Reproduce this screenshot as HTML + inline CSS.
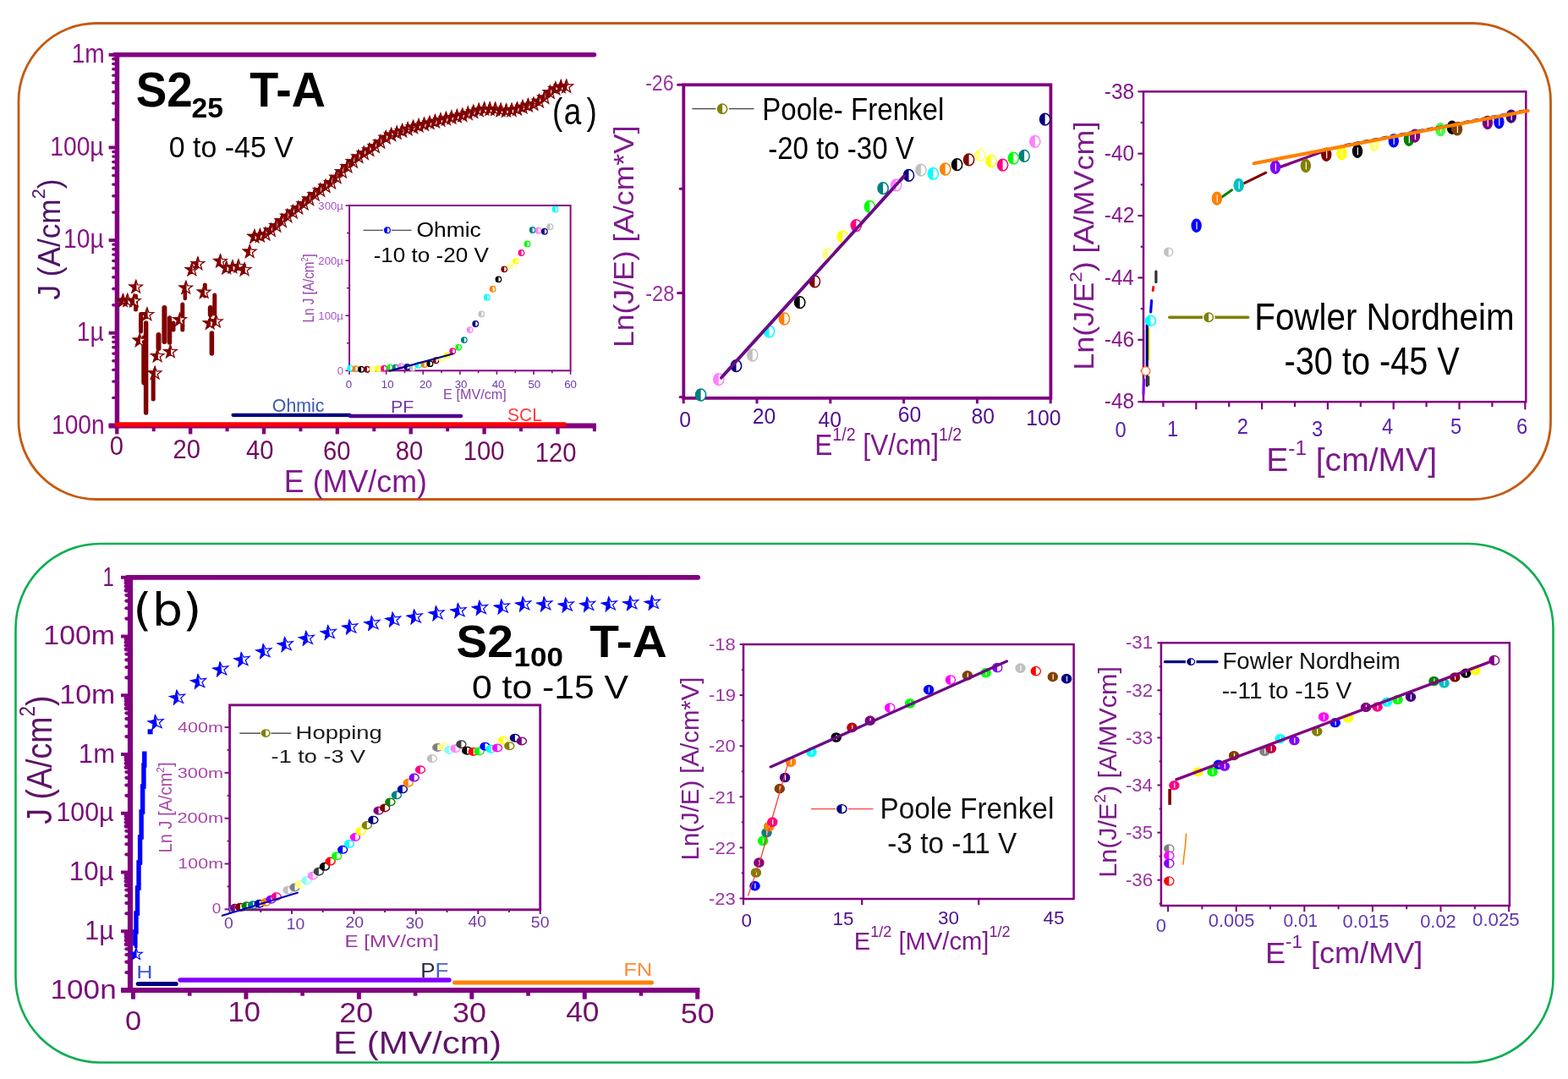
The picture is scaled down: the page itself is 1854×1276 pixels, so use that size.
<!DOCTYPE html>
<html lang="en"><head><meta charset="utf-8"><title>J-E characteristics and conduction mechanisms</title>
<style>html,body{margin:0;padding:0;background:#fff;}body{width:1854px;height:1276px;overflow:hidden;}svg{display:block;}text{font-family:"Liberation Sans",Arial,Helvetica,sans-serif;}</style></head>
<body>
<svg width="1854" height="1276" viewBox="0 0 1854 1276" role="img" aria-label="J-E characteristics with Ohmic, Poole-Frenkel and Fowler-Nordheim fits">
<rect width="1854" height="1276" fill="#fff"/>
<!-- top rounded box -->
<rect x="22" y="27.5" width="1811.5" height="563" rx="92" fill="none" stroke="#C55A11" stroke-width="2.8"/>
<!-- plot (a): J-E, S2_25 -->
<line x1="138.45" y1="62" x2="138.45" y2="506.4" stroke="#800080" stroke-width="5.5" stroke-linecap="butt"/>
<line x1="135.2" y1="64.8" x2="702.5" y2="64.8" stroke="#800080" stroke-width="5.5" stroke-linecap="round"/>
<line x1="128.6" y1="503.4" x2="704.9" y2="503.4" stroke="#800080" stroke-width="6" stroke-linecap="butt"/>
<line x1="128.6" y1="64.8" x2="136" y2="64.8" stroke="#800080" stroke-width="4" stroke-linecap="butt"/>
<line x1="133.8" y1="141.44" x2="136" y2="141.44" stroke="#800080" stroke-width="3.4" stroke-linecap="round"/>
<line x1="133.8" y1="122.13" x2="136" y2="122.13" stroke="#800080" stroke-width="3.4" stroke-linecap="round"/>
<line x1="133.8" y1="108.43" x2="136" y2="108.43" stroke="#800080" stroke-width="3.4" stroke-linecap="round"/>
<line x1="133.8" y1="97.81" x2="136" y2="97.81" stroke="#800080" stroke-width="3.4" stroke-linecap="round"/>
<line x1="133.8" y1="89.13" x2="136" y2="89.13" stroke="#800080" stroke-width="3.4" stroke-linecap="round"/>
<line x1="133.8" y1="81.78" x2="136" y2="81.78" stroke="#800080" stroke-width="3.4" stroke-linecap="round"/>
<line x1="133.8" y1="75.43" x2="136" y2="75.43" stroke="#800080" stroke-width="3.4" stroke-linecap="round"/>
<line x1="133.8" y1="69.82" x2="136" y2="69.82" stroke="#800080" stroke-width="3.4" stroke-linecap="round"/>
<line x1="128.6" y1="174.45" x2="136" y2="174.45" stroke="#800080" stroke-width="4" stroke-linecap="butt"/>
<line x1="133.8" y1="251.09" x2="136" y2="251.09" stroke="#800080" stroke-width="3.4" stroke-linecap="round"/>
<line x1="133.8" y1="231.78" x2="136" y2="231.78" stroke="#800080" stroke-width="3.4" stroke-linecap="round"/>
<line x1="133.8" y1="218.08" x2="136" y2="218.08" stroke="#800080" stroke-width="3.4" stroke-linecap="round"/>
<line x1="133.8" y1="207.46" x2="136" y2="207.46" stroke="#800080" stroke-width="3.4" stroke-linecap="round"/>
<line x1="133.8" y1="198.78" x2="136" y2="198.78" stroke="#800080" stroke-width="3.4" stroke-linecap="round"/>
<line x1="133.8" y1="191.43" x2="136" y2="191.43" stroke="#800080" stroke-width="3.4" stroke-linecap="round"/>
<line x1="133.8" y1="185.08" x2="136" y2="185.08" stroke="#800080" stroke-width="3.4" stroke-linecap="round"/>
<line x1="133.8" y1="179.47" x2="136" y2="179.47" stroke="#800080" stroke-width="3.4" stroke-linecap="round"/>
<line x1="128.6" y1="284.1" x2="136" y2="284.1" stroke="#800080" stroke-width="4" stroke-linecap="butt"/>
<line x1="133.8" y1="360.74" x2="136" y2="360.74" stroke="#800080" stroke-width="3.4" stroke-linecap="round"/>
<line x1="133.8" y1="341.43" x2="136" y2="341.43" stroke="#800080" stroke-width="3.4" stroke-linecap="round"/>
<line x1="133.8" y1="327.73" x2="136" y2="327.73" stroke="#800080" stroke-width="3.4" stroke-linecap="round"/>
<line x1="133.8" y1="317.11" x2="136" y2="317.11" stroke="#800080" stroke-width="3.4" stroke-linecap="round"/>
<line x1="133.8" y1="308.43" x2="136" y2="308.43" stroke="#800080" stroke-width="3.4" stroke-linecap="round"/>
<line x1="133.8" y1="301.08" x2="136" y2="301.08" stroke="#800080" stroke-width="3.4" stroke-linecap="round"/>
<line x1="133.8" y1="294.73" x2="136" y2="294.73" stroke="#800080" stroke-width="3.4" stroke-linecap="round"/>
<line x1="133.8" y1="289.12" x2="136" y2="289.12" stroke="#800080" stroke-width="3.4" stroke-linecap="round"/>
<line x1="128.6" y1="393.75" x2="136" y2="393.75" stroke="#800080" stroke-width="4" stroke-linecap="butt"/>
<line x1="133.8" y1="470.39" x2="136" y2="470.39" stroke="#800080" stroke-width="3.4" stroke-linecap="round"/>
<line x1="133.8" y1="451.08" x2="136" y2="451.08" stroke="#800080" stroke-width="3.4" stroke-linecap="round"/>
<line x1="133.8" y1="437.38" x2="136" y2="437.38" stroke="#800080" stroke-width="3.4" stroke-linecap="round"/>
<line x1="133.8" y1="426.76" x2="136" y2="426.76" stroke="#800080" stroke-width="3.4" stroke-linecap="round"/>
<line x1="133.8" y1="418.08" x2="136" y2="418.08" stroke="#800080" stroke-width="3.4" stroke-linecap="round"/>
<line x1="133.8" y1="410.73" x2="136" y2="410.73" stroke="#800080" stroke-width="3.4" stroke-linecap="round"/>
<line x1="133.8" y1="404.38" x2="136" y2="404.38" stroke="#800080" stroke-width="3.4" stroke-linecap="round"/>
<line x1="133.8" y1="398.77" x2="136" y2="398.77" stroke="#800080" stroke-width="3.4" stroke-linecap="round"/>
<line x1="128.6" y1="503.4" x2="136" y2="503.4" stroke="#800080" stroke-width="4" stroke-linecap="butt"/>
<line x1="138.3" y1="503.4" x2="138.3" y2="513.4" stroke="#800080" stroke-width="4.4" stroke-linecap="butt"/>
<line x1="181.73" y1="503.4" x2="181.73" y2="510.2" stroke="#800080" stroke-width="4" stroke-linecap="butt"/>
<line x1="225.16" y1="503.4" x2="225.16" y2="513.4" stroke="#800080" stroke-width="4.4" stroke-linecap="butt"/>
<line x1="268.59" y1="503.4" x2="268.59" y2="510.2" stroke="#800080" stroke-width="4" stroke-linecap="butt"/>
<line x1="312.02" y1="503.4" x2="312.02" y2="513.4" stroke="#800080" stroke-width="4.4" stroke-linecap="butt"/>
<line x1="355.45" y1="503.4" x2="355.45" y2="510.2" stroke="#800080" stroke-width="4" stroke-linecap="butt"/>
<line x1="398.88" y1="503.4" x2="398.88" y2="513.4" stroke="#800080" stroke-width="4.4" stroke-linecap="butt"/>
<line x1="442.31" y1="503.4" x2="442.31" y2="510.2" stroke="#800080" stroke-width="4" stroke-linecap="butt"/>
<line x1="485.74" y1="503.4" x2="485.74" y2="513.4" stroke="#800080" stroke-width="4.4" stroke-linecap="butt"/>
<line x1="529.17" y1="503.4" x2="529.17" y2="510.2" stroke="#800080" stroke-width="4" stroke-linecap="butt"/>
<line x1="572.6" y1="503.4" x2="572.6" y2="513.4" stroke="#800080" stroke-width="4.4" stroke-linecap="butt"/>
<line x1="616.03" y1="503.4" x2="616.03" y2="510.2" stroke="#800080" stroke-width="4" stroke-linecap="butt"/>
<line x1="659.46" y1="503.4" x2="659.46" y2="513.4" stroke="#800080" stroke-width="4.4" stroke-linecap="butt"/>
<line x1="702.89" y1="503.4" x2="702.89" y2="510.2" stroke="#800080" stroke-width="4" stroke-linecap="butt"/>
<line x1="138.5" y1="502" x2="667.5" y2="502" stroke="#FF0000" stroke-width="5.5" stroke-linecap="round"/>
<line x1="275.5" y1="490.8" x2="413.5" y2="490.8" stroke="#000080" stroke-width="4.2" stroke-linecap="round"/>
<line x1="414" y1="492" x2="545" y2="492" stroke="#4B0091" stroke-width="4.6" stroke-linecap="round"/>
<text transform="translate(84.66,74.1) scale(0.9150,1)" font-size="30.8" fill="#861486">1m</text>
<text transform="translate(59.3,183.75) scale(0.9150,1)" font-size="30.8" fill="#861486">100µ</text>
<text transform="translate(75.08,293.4) scale(0.9150,1)" font-size="30.8" fill="#861486">10µ</text>
<text transform="translate(90.72,403.05) scale(0.9150,1)" font-size="30.8" fill="#861486">1µ</text>
<text transform="translate(60.99,512.7) scale(0.9150,1)" font-size="30.8" fill="#861486">100n</text>
<text transform="translate(129.78,537.8) scale(0.9500,1)" font-size="30.8" fill="#700A5E">0</text>
<text transform="translate(204.44,542.3) scale(0.9500,1)" font-size="30.8" fill="#700A5E">20</text>
<text transform="translate(290.88,543.4) scale(0.9500,1)" font-size="30.8" fill="#700A5E">40</text>
<text transform="translate(381.94,544) scale(0.9500,1)" font-size="30.8" fill="#700A5E">60</text>
<text transform="translate(467.79,543.6) scale(0.9500,1)" font-size="30.8" fill="#700A5E">80</text>
<text transform="translate(547.76,544.4) scale(0.9500,1)" font-size="30.8" fill="#700A5E">100</text>
<text transform="translate(632.76,546) scale(0.9500,1)" font-size="30.8" fill="#700A5E">120</text>
<text transform="translate(335.83,581.7) scale(0.9872,1)" font-size="36.3" fill="#801890">E (MV/cm)</text>
<text transform="translate(70.9,354.53) rotate(-90) scale(0.9639,1)" font-size="36.5" fill="#4E1468">J (A/cm<tspan dy="-18.25" font-size="22.63">2</tspan><tspan dy="18.25">)</tspan></text>
<text transform="translate(160.63,126.3) scale(0.9619,1)" font-size="57" fill="#000" font-weight="bold">S2</text>
<text transform="translate(226.39,138.7) scale(1.0225,1)" font-size="33" fill="#000" font-weight="bold">25</text>
<text transform="translate(295.34,126.3) scale(0.9771,1)" font-size="57" fill="#000" font-weight="bold">T-A</text>
<text transform="translate(199.81,185.8) scale(0.9419,1)" font-size="36" fill="#000">0 to -45 V</text>
<text transform="translate(652.9,147) scale(0.84,1)" font-size="44">(<tspan dx="1.8">a</tspan><tspan dx="7.3">)</tspan></text>
<text transform="translate(321.84,487.3) scale(0.9488,1)" font-size="22.5" fill="#3A58B4">Ohmic</text>
<text transform="translate(461.88,488.4) scale(1.0776,1)" font-size="20" fill="#6E3CAA">PF</text>
<text transform="translate(600.05,497.7) scale(0.9340,1)" font-size="22.5" fill="#FF3B3B">SCL</text>
<line x1="172.6" y1="382" x2="172.6" y2="488" stroke="#800000" stroke-width="5.5" stroke-linecap="round"/>
<line x1="166.5" y1="372" x2="166.5" y2="392" stroke="#800000" stroke-width="5" stroke-linecap="round"/>
<line x1="171" y1="400" x2="171" y2="452" stroke="#800000" stroke-width="7.5" stroke-linecap="round"/>
<line x1="181.2" y1="447" x2="181.2" y2="472" stroke="#800000" stroke-width="5" stroke-linecap="round"/>
<line x1="194.4" y1="364" x2="194.4" y2="404" stroke="#800000" stroke-width="6" stroke-linecap="round"/>
<line x1="200.5" y1="376" x2="200.5" y2="405" stroke="#800000" stroke-width="5.5" stroke-linecap="round"/>
<line x1="187.5" y1="396" x2="187.5" y2="412" stroke="#800000" stroke-width="6" stroke-linecap="round"/>
<line x1="215.8" y1="360" x2="215.8" y2="390" stroke="#800000" stroke-width="5" stroke-linecap="round"/>
<line x1="218.8" y1="340" x2="218.8" y2="353" stroke="#800000" stroke-width="4.5" stroke-linecap="round"/>
<line x1="250.4" y1="394" x2="250.4" y2="418" stroke="#800000" stroke-width="5.5" stroke-linecap="round"/>
<line x1="253.8" y1="349" x2="253.8" y2="371" stroke="#800000" stroke-width="5" stroke-linecap="round"/>
<line x1="248.8" y1="364" x2="248.8" y2="372" stroke="#800000" stroke-width="6" stroke-linecap="round"/>
<line x1="242.3" y1="337" x2="242.3" y2="350" stroke="#800000" stroke-width="5" stroke-linecap="round"/>
<line x1="160.5" y1="350" x2="160.5" y2="366" stroke="#800000" stroke-width="5" stroke-linecap="round"/>
<line x1="205" y1="382" x2="205" y2="390" stroke="#800000" stroke-width="5" stroke-linecap="round"/>
<g transform="translate(145.5,355.8)"><polygon points="0,-8 1.88,-2.59 7.61,-2.47 3.04,0.99 4.7,6.47 0,3.2 -4.7,6.47 -3.04,0.99 -7.61,-2.47 -1.88,-2.59" fill="#fff" stroke="#800000" stroke-width="1.3" stroke-linejoin="miter"/><polygon points="0,-8 -1.88,-2.59 -7.61,-2.47 -3.04,0.99 -4.7,6.47 0,3.2" fill="#800000" stroke="#800000" stroke-width="1.3"/></g>
<g transform="translate(150.8,355.5)"><polygon points="0,-8 1.88,-2.59 7.61,-2.47 3.04,0.99 4.7,6.47 0,3.2 -4.7,6.47 -3.04,0.99 -7.61,-2.47 -1.88,-2.59" fill="#fff" stroke="#800000" stroke-width="1.3" stroke-linejoin="miter"/><polygon points="0,-8 -1.88,-2.59 -7.61,-2.47 -3.04,0.99 -4.7,6.47 0,3.2" fill="#800000" stroke="#800000" stroke-width="1.3"/></g>
<g transform="translate(158.5,356)"><polygon points="0,-8 1.88,-2.59 7.61,-2.47 3.04,0.99 4.7,6.47 0,3.2 -4.7,6.47 -3.04,0.99 -7.61,-2.47 -1.88,-2.59" fill="#fff" stroke="#800000" stroke-width="1.3" stroke-linejoin="miter"/><polygon points="0,-8 -1.88,-2.59 -7.61,-2.47 -3.04,0.99 -4.7,6.47 0,3.2" fill="#800000" stroke="#800000" stroke-width="1.3"/></g>
<g transform="translate(160.8,339.5)"><polygon points="0,-8 1.88,-2.59 7.61,-2.47 3.04,0.99 4.7,6.47 0,3.2 -4.7,6.47 -3.04,0.99 -7.61,-2.47 -1.88,-2.59" fill="#fff" stroke="#800000" stroke-width="1.3" stroke-linejoin="miter"/><polygon points="0,-8 -1.88,-2.59 -7.61,-2.47 -3.04,0.99 -4.7,6.47 0,3.2" fill="#800000" stroke="#800000" stroke-width="1.3"/></g>
<g transform="translate(174,372)"><polygon points="0,-8 1.88,-2.59 7.61,-2.47 3.04,0.99 4.7,6.47 0,3.2 -4.7,6.47 -3.04,0.99 -7.61,-2.47 -1.88,-2.59" fill="#fff" stroke="#800000" stroke-width="1.3" stroke-linejoin="miter"/><polygon points="0,-8 -1.88,-2.59 -7.61,-2.47 -3.04,0.99 -4.7,6.47 0,3.2" fill="#800000" stroke="#800000" stroke-width="1.3"/></g>
<g transform="translate(165.2,402.7)"><polygon points="0,-8 1.88,-2.59 7.61,-2.47 3.04,0.99 4.7,6.47 0,3.2 -4.7,6.47 -3.04,0.99 -7.61,-2.47 -1.88,-2.59" fill="#fff" stroke="#800000" stroke-width="1.3" stroke-linejoin="miter"/><polygon points="0,-8 -1.88,-2.59 -7.61,-2.47 -3.04,0.99 -4.7,6.47 0,3.2" fill="#800000" stroke="#800000" stroke-width="1.3"/></g>
<g transform="translate(186.2,421)"><polygon points="0,-8 1.88,-2.59 7.61,-2.47 3.04,0.99 4.7,6.47 0,3.2 -4.7,6.47 -3.04,0.99 -7.61,-2.47 -1.88,-2.59" fill="#fff" stroke="#800000" stroke-width="1.3" stroke-linejoin="miter"/><polygon points="0,-8 -1.88,-2.59 -7.61,-2.47 -3.04,0.99 -4.7,6.47 0,3.2" fill="#800000" stroke="#800000" stroke-width="1.3"/></g>
<g transform="translate(201.5,416)"><polygon points="0,-8 1.88,-2.59 7.61,-2.47 3.04,0.99 4.7,6.47 0,3.2 -4.7,6.47 -3.04,0.99 -7.61,-2.47 -1.88,-2.59" fill="#fff" stroke="#800000" stroke-width="1.3" stroke-linejoin="miter"/><polygon points="0,-8 -1.88,-2.59 -7.61,-2.47 -3.04,0.99 -4.7,6.47 0,3.2" fill="#800000" stroke="#800000" stroke-width="1.3"/></g>
<g transform="translate(183.2,441.4)"><polygon points="0,-8 1.88,-2.59 7.61,-2.47 3.04,0.99 4.7,6.47 0,3.2 -4.7,6.47 -3.04,0.99 -7.61,-2.47 -1.88,-2.59" fill="#fff" stroke="#800000" stroke-width="1.3" stroke-linejoin="miter"/><polygon points="0,-8 -1.88,-2.59 -7.61,-2.47 -3.04,0.99 -4.7,6.47 0,3.2" fill="#800000" stroke="#800000" stroke-width="1.3"/></g>
<g transform="translate(212.7,378.2)"><polygon points="0,-8 1.88,-2.59 7.61,-2.47 3.04,0.99 4.7,6.47 0,3.2 -4.7,6.47 -3.04,0.99 -7.61,-2.47 -1.88,-2.59" fill="#fff" stroke="#800000" stroke-width="1.3" stroke-linejoin="miter"/><polygon points="0,-8 -1.88,-2.59 -7.61,-2.47 -3.04,0.99 -4.7,6.47 0,3.2" fill="#800000" stroke="#800000" stroke-width="1.3"/></g>
<g transform="translate(219.9,340.5)"><polygon points="0,-8 1.88,-2.59 7.61,-2.47 3.04,0.99 4.7,6.47 0,3.2 -4.7,6.47 -3.04,0.99 -7.61,-2.47 -1.88,-2.59" fill="#fff" stroke="#800000" stroke-width="1.3" stroke-linejoin="miter"/><polygon points="0,-8 -1.88,-2.59 -7.61,-2.47 -3.04,0.99 -4.7,6.47 0,3.2" fill="#800000" stroke="#800000" stroke-width="1.3"/></g>
<g transform="translate(227,319)"><polygon points="0,-8 1.88,-2.59 7.61,-2.47 3.04,0.99 4.7,6.47 0,3.2 -4.7,6.47 -3.04,0.99 -7.61,-2.47 -1.88,-2.59" fill="#fff" stroke="#800000" stroke-width="1.3" stroke-linejoin="miter"/><polygon points="0,-8 -1.88,-2.59 -7.61,-2.47 -3.04,0.99 -4.7,6.47 0,3.2" fill="#800000" stroke="#800000" stroke-width="1.3"/></g>
<g transform="translate(234,312)"><polygon points="0,-8 1.88,-2.59 7.61,-2.47 3.04,0.99 4.7,6.47 0,3.2 -4.7,6.47 -3.04,0.99 -7.61,-2.47 -1.88,-2.59" fill="#fff" stroke="#800000" stroke-width="1.3" stroke-linejoin="miter"/><polygon points="0,-8 -1.88,-2.59 -7.61,-2.47 -3.04,0.99 -4.7,6.47 0,3.2" fill="#800000" stroke="#800000" stroke-width="1.3"/></g>
<g transform="translate(241.3,345.6)"><polygon points="0,-8 1.88,-2.59 7.61,-2.47 3.04,0.99 4.7,6.47 0,3.2 -4.7,6.47 -3.04,0.99 -7.61,-2.47 -1.88,-2.59" fill="#fff" stroke="#800000" stroke-width="1.3" stroke-linejoin="miter"/><polygon points="0,-8 -1.88,-2.59 -7.61,-2.47 -3.04,0.99 -4.7,6.47 0,3.2" fill="#800000" stroke="#800000" stroke-width="1.3"/></g>
<g transform="translate(248.4,382.3)"><polygon points="0,-8 1.88,-2.59 7.61,-2.47 3.04,0.99 4.7,6.47 0,3.2 -4.7,6.47 -3.04,0.99 -7.61,-2.47 -1.88,-2.59" fill="#fff" stroke="#800000" stroke-width="1.3" stroke-linejoin="miter"/><polygon points="0,-8 -1.88,-2.59 -7.61,-2.47 -3.04,0.99 -4.7,6.47 0,3.2" fill="#800000" stroke="#800000" stroke-width="1.3"/></g>
<g transform="translate(255.5,380.3)"><polygon points="0,-8 1.88,-2.59 7.61,-2.47 3.04,0.99 4.7,6.47 0,3.2 -4.7,6.47 -3.04,0.99 -7.61,-2.47 -1.88,-2.59" fill="#fff" stroke="#800000" stroke-width="1.3" stroke-linejoin="miter"/><polygon points="0,-8 -1.88,-2.59 -7.61,-2.47 -3.04,0.99 -4.7,6.47 0,3.2" fill="#800000" stroke="#800000" stroke-width="1.3"/></g>
<g transform="translate(260.6,309)"><polygon points="0,-8 1.88,-2.59 7.61,-2.47 3.04,0.99 4.7,6.47 0,3.2 -4.7,6.47 -3.04,0.99 -7.61,-2.47 -1.88,-2.59" fill="#fff" stroke="#800000" stroke-width="1.3" stroke-linejoin="miter"/><polygon points="0,-8 -1.88,-2.59 -7.61,-2.47 -3.04,0.99 -4.7,6.47 0,3.2" fill="#800000" stroke="#800000" stroke-width="1.3"/></g>
<g transform="translate(267.8,317)"><polygon points="0,-8 1.88,-2.59 7.61,-2.47 3.04,0.99 4.7,6.47 0,3.2 -4.7,6.47 -3.04,0.99 -7.61,-2.47 -1.88,-2.59" fill="#fff" stroke="#800000" stroke-width="1.3" stroke-linejoin="miter"/><polygon points="0,-8 -1.88,-2.59 -7.61,-2.47 -3.04,0.99 -4.7,6.47 0,3.2" fill="#800000" stroke="#800000" stroke-width="1.3"/></g>
<g transform="translate(275,316)"><polygon points="0,-8 1.88,-2.59 7.61,-2.47 3.04,0.99 4.7,6.47 0,3.2 -4.7,6.47 -3.04,0.99 -7.61,-2.47 -1.88,-2.59" fill="#fff" stroke="#800000" stroke-width="1.3" stroke-linejoin="miter"/><polygon points="0,-8 -1.88,-2.59 -7.61,-2.47 -3.04,0.99 -4.7,6.47 0,3.2" fill="#800000" stroke="#800000" stroke-width="1.3"/></g>
<g transform="translate(282,315)"><polygon points="0,-8 1.88,-2.59 7.61,-2.47 3.04,0.99 4.7,6.47 0,3.2 -4.7,6.47 -3.04,0.99 -7.61,-2.47 -1.88,-2.59" fill="#fff" stroke="#800000" stroke-width="1.3" stroke-linejoin="miter"/><polygon points="0,-8 -1.88,-2.59 -7.61,-2.47 -3.04,0.99 -4.7,6.47 0,3.2" fill="#800000" stroke="#800000" stroke-width="1.3"/></g>
<g transform="translate(289.2,319)"><polygon points="0,-8 1.88,-2.59 7.61,-2.47 3.04,0.99 4.7,6.47 0,3.2 -4.7,6.47 -3.04,0.99 -7.61,-2.47 -1.88,-2.59" fill="#fff" stroke="#800000" stroke-width="1.3" stroke-linejoin="miter"/><polygon points="0,-8 -1.88,-2.59 -7.61,-2.47 -3.04,0.99 -4.7,6.47 0,3.2" fill="#800000" stroke="#800000" stroke-width="1.3"/></g>
<g transform="translate(295.3,297.7)"><polygon points="0,-8 1.88,-2.59 7.61,-2.47 3.04,0.99 4.7,6.47 0,3.2 -4.7,6.47 -3.04,0.99 -7.61,-2.47 -1.88,-2.59" fill="#fff" stroke="#800000" stroke-width="1.3" stroke-linejoin="miter"/><polygon points="0,-8 -1.88,-2.59 -7.61,-2.47 -3.04,0.99 -4.7,6.47 0,3.2" fill="#800000" stroke="#800000" stroke-width="1.3"/></g>
<g transform="translate(301.01,279.9)"><polygon points="0,-8.2 1.93,-2.65 7.8,-2.53 3.12,1.01 4.82,6.63 0,3.28 -4.82,6.63 -3.12,1.01 -7.8,-2.53 -1.93,-2.65" fill="none" stroke="#800000" stroke-width="1.3" stroke-linejoin="miter"/><polygon points="0,-8.2 -1.93,-2.65 -7.8,-2.53 -3.12,1.01 -4.82,6.63 0,3.28" fill="#800000" stroke="#800000" stroke-width="1.3"/></g>
<g transform="translate(307.48,279)"><polygon points="0,-8.2 1.93,-2.65 7.8,-2.53 3.12,1.01 4.82,6.63 0,3.28 -4.82,6.63 -3.12,1.01 -7.8,-2.53 -1.93,-2.65" fill="none" stroke="#800000" stroke-width="1.3" stroke-linejoin="miter"/><polygon points="0,-8.2 -1.93,-2.65 -7.8,-2.53 -3.12,1.01 -4.82,6.63 0,3.28" fill="#800000" stroke="#800000" stroke-width="1.3"/></g>
<g transform="translate(313.95,277.12)"><polygon points="0,-8.2 1.93,-2.65 7.8,-2.53 3.12,1.01 4.82,6.63 0,3.28 -4.82,6.63 -3.12,1.01 -7.8,-2.53 -1.93,-2.65" fill="none" stroke="#800000" stroke-width="1.3" stroke-linejoin="miter"/><polygon points="0,-8.2 -1.93,-2.65 -7.8,-2.53 -3.12,1.01 -4.82,6.63 0,3.28" fill="#800000" stroke="#800000" stroke-width="1.3"/></g>
<g transform="translate(320.42,272.47)"><polygon points="0,-8.2 1.93,-2.65 7.8,-2.53 3.12,1.01 4.82,6.63 0,3.28 -4.82,6.63 -3.12,1.01 -7.8,-2.53 -1.93,-2.65" fill="none" stroke="#800000" stroke-width="1.3" stroke-linejoin="miter"/><polygon points="0,-8.2 -1.93,-2.65 -7.8,-2.53 -3.12,1.01 -4.82,6.63 0,3.28" fill="#800000" stroke="#800000" stroke-width="1.3"/></g>
<g transform="translate(326.89,267.2)"><polygon points="0,-8.2 1.93,-2.65 7.8,-2.53 3.12,1.01 4.82,6.63 0,3.28 -4.82,6.63 -3.12,1.01 -7.8,-2.53 -1.93,-2.65" fill="none" stroke="#800000" stroke-width="1.3" stroke-linejoin="miter"/><polygon points="0,-8.2 -1.93,-2.65 -7.8,-2.53 -3.12,1.01 -4.82,6.63 0,3.28" fill="#800000" stroke="#800000" stroke-width="1.3"/></g>
<g transform="translate(333.36,261.43)"><polygon points="0,-8.2 1.93,-2.65 7.8,-2.53 3.12,1.01 4.82,6.63 0,3.28 -4.82,6.63 -3.12,1.01 -7.8,-2.53 -1.93,-2.65" fill="none" stroke="#800000" stroke-width="1.3" stroke-linejoin="miter"/><polygon points="0,-8.2 -1.93,-2.65 -7.8,-2.53 -3.12,1.01 -4.82,6.63 0,3.28" fill="#800000" stroke="#800000" stroke-width="1.3"/></g>
<g transform="translate(339.83,255.78)"><polygon points="0,-8.2 1.93,-2.65 7.8,-2.53 3.12,1.01 4.82,6.63 0,3.28 -4.82,6.63 -3.12,1.01 -7.8,-2.53 -1.93,-2.65" fill="none" stroke="#800000" stroke-width="1.3" stroke-linejoin="miter"/><polygon points="0,-8.2 -1.93,-2.65 -7.8,-2.53 -3.12,1.01 -4.82,6.63 0,3.28" fill="#800000" stroke="#800000" stroke-width="1.3"/></g>
<g transform="translate(346.3,250.93)"><polygon points="0,-8.2 1.93,-2.65 7.8,-2.53 3.12,1.01 4.82,6.63 0,3.28 -4.82,6.63 -3.12,1.01 -7.8,-2.53 -1.93,-2.65" fill="none" stroke="#800000" stroke-width="1.3" stroke-linejoin="miter"/><polygon points="0,-8.2 -1.93,-2.65 -7.8,-2.53 -3.12,1.01 -4.82,6.63 0,3.28" fill="#800000" stroke="#800000" stroke-width="1.3"/></g>
<g transform="translate(352.77,246.07)"><polygon points="0,-8.2 1.93,-2.65 7.8,-2.53 3.12,1.01 4.82,6.63 0,3.28 -4.82,6.63 -3.12,1.01 -7.8,-2.53 -1.93,-2.65" fill="none" stroke="#800000" stroke-width="1.3" stroke-linejoin="miter"/><polygon points="0,-8.2 -1.93,-2.65 -7.8,-2.53 -3.12,1.01 -4.82,6.63 0,3.28" fill="#800000" stroke="#800000" stroke-width="1.3"/></g>
<g transform="translate(359.24,241.1)"><polygon points="0,-8.2 1.93,-2.65 7.8,-2.53 3.12,1.01 4.82,6.63 0,3.28 -4.82,6.63 -3.12,1.01 -7.8,-2.53 -1.93,-2.65" fill="none" stroke="#800000" stroke-width="1.3" stroke-linejoin="miter"/><polygon points="0,-8.2 -1.93,-2.65 -7.8,-2.53 -3.12,1.01 -4.82,6.63 0,3.28" fill="#800000" stroke="#800000" stroke-width="1.3"/></g>
<g transform="translate(365.71,235.69)"><polygon points="0,-8.2 1.93,-2.65 7.8,-2.53 3.12,1.01 4.82,6.63 0,3.28 -4.82,6.63 -3.12,1.01 -7.8,-2.53 -1.93,-2.65" fill="none" stroke="#800000" stroke-width="1.3" stroke-linejoin="miter"/><polygon points="0,-8.2 -1.93,-2.65 -7.8,-2.53 -3.12,1.01 -4.82,6.63 0,3.28" fill="#800000" stroke="#800000" stroke-width="1.3"/></g>
<g transform="translate(372.18,230.29)"><polygon points="0,-8.2 1.93,-2.65 7.8,-2.53 3.12,1.01 4.82,6.63 0,3.28 -4.82,6.63 -3.12,1.01 -7.8,-2.53 -1.93,-2.65" fill="none" stroke="#800000" stroke-width="1.3" stroke-linejoin="miter"/><polygon points="0,-8.2 -1.93,-2.65 -7.8,-2.53 -3.12,1.01 -4.82,6.63 0,3.28" fill="#800000" stroke="#800000" stroke-width="1.3"/></g>
<g transform="translate(378.65,225.16)"><polygon points="0,-8.2 1.93,-2.65 7.8,-2.53 3.12,1.01 4.82,6.63 0,3.28 -4.82,6.63 -3.12,1.01 -7.8,-2.53 -1.93,-2.65" fill="none" stroke="#800000" stroke-width="1.3" stroke-linejoin="miter"/><polygon points="0,-8.2 -1.93,-2.65 -7.8,-2.53 -3.12,1.01 -4.82,6.63 0,3.28" fill="#800000" stroke="#800000" stroke-width="1.3"/></g>
<g transform="translate(385.12,220.63)"><polygon points="0,-8.2 1.93,-2.65 7.8,-2.53 3.12,1.01 4.82,6.63 0,3.28 -4.82,6.63 -3.12,1.01 -7.8,-2.53 -1.93,-2.65" fill="none" stroke="#800000" stroke-width="1.3" stroke-linejoin="miter"/><polygon points="0,-8.2 -1.93,-2.65 -7.8,-2.53 -3.12,1.01 -4.82,6.63 0,3.28" fill="#800000" stroke="#800000" stroke-width="1.3"/></g>
<g transform="translate(391.59,216.1)"><polygon points="0,-8.2 1.93,-2.65 7.8,-2.53 3.12,1.01 4.82,6.63 0,3.28 -4.82,6.63 -3.12,1.01 -7.8,-2.53 -1.93,-2.65" fill="none" stroke="#800000" stroke-width="1.3" stroke-linejoin="miter"/><polygon points="0,-8.2 -1.93,-2.65 -7.8,-2.53 -3.12,1.01 -4.82,6.63 0,3.28" fill="#800000" stroke="#800000" stroke-width="1.3"/></g>
<g transform="translate(398.06,209.8)"><polygon points="0,-8.2 1.93,-2.65 7.8,-2.53 3.12,1.01 4.82,6.63 0,3.28 -4.82,6.63 -3.12,1.01 -7.8,-2.53 -1.93,-2.65" fill="none" stroke="#800000" stroke-width="1.3" stroke-linejoin="miter"/><polygon points="0,-8.2 -1.93,-2.65 -7.8,-2.53 -3.12,1.01 -4.82,6.63 0,3.28" fill="#800000" stroke="#800000" stroke-width="1.3"/></g>
<g transform="translate(404.53,203.29)"><polygon points="0,-8.2 1.93,-2.65 7.8,-2.53 3.12,1.01 4.82,6.63 0,3.28 -4.82,6.63 -3.12,1.01 -7.8,-2.53 -1.93,-2.65" fill="none" stroke="#800000" stroke-width="1.3" stroke-linejoin="miter"/><polygon points="0,-8.2 -1.93,-2.65 -7.8,-2.53 -3.12,1.01 -4.82,6.63 0,3.28" fill="#800000" stroke="#800000" stroke-width="1.3"/></g>
<g transform="translate(411,197.12)"><polygon points="0,-8.2 1.93,-2.65 7.8,-2.53 3.12,1.01 4.82,6.63 0,3.28 -4.82,6.63 -3.12,1.01 -7.8,-2.53 -1.93,-2.65" fill="none" stroke="#800000" stroke-width="1.3" stroke-linejoin="miter"/><polygon points="0,-8.2 -1.93,-2.65 -7.8,-2.53 -3.12,1.01 -4.82,6.63 0,3.28" fill="#800000" stroke="#800000" stroke-width="1.3"/></g>
<g transform="translate(417.47,191.31)"><polygon points="0,-8.2 1.93,-2.65 7.8,-2.53 3.12,1.01 4.82,6.63 0,3.28 -4.82,6.63 -3.12,1.01 -7.8,-2.53 -1.93,-2.65" fill="none" stroke="#800000" stroke-width="1.3" stroke-linejoin="miter"/><polygon points="0,-8.2 -1.93,-2.65 -7.8,-2.53 -3.12,1.01 -4.82,6.63 0,3.28" fill="#800000" stroke="#800000" stroke-width="1.3"/></g>
<g transform="translate(423.94,185.58)"><polygon points="0,-8.2 1.93,-2.65 7.8,-2.53 3.12,1.01 4.82,6.63 0,3.28 -4.82,6.63 -3.12,1.01 -7.8,-2.53 -1.93,-2.65" fill="none" stroke="#800000" stroke-width="1.3" stroke-linejoin="miter"/><polygon points="0,-8.2 -1.93,-2.65 -7.8,-2.53 -3.12,1.01 -4.82,6.63 0,3.28" fill="#800000" stroke="#800000" stroke-width="1.3"/></g>
<g transform="translate(430.41,181.5)"><polygon points="0,-8.2 1.93,-2.65 7.8,-2.53 3.12,1.01 4.82,6.63 0,3.28 -4.82,6.63 -3.12,1.01 -7.8,-2.53 -1.93,-2.65" fill="none" stroke="#800000" stroke-width="1.3" stroke-linejoin="miter"/><polygon points="0,-8.2 -1.93,-2.65 -7.8,-2.53 -3.12,1.01 -4.82,6.63 0,3.28" fill="#800000" stroke="#800000" stroke-width="1.3"/></g>
<g transform="translate(436.88,177.58)"><polygon points="0,-8.2 1.93,-2.65 7.8,-2.53 3.12,1.01 4.82,6.63 0,3.28 -4.82,6.63 -3.12,1.01 -7.8,-2.53 -1.93,-2.65" fill="none" stroke="#800000" stroke-width="1.3" stroke-linejoin="miter"/><polygon points="0,-8.2 -1.93,-2.65 -7.8,-2.53 -3.12,1.01 -4.82,6.63 0,3.28" fill="#800000" stroke="#800000" stroke-width="1.3"/></g>
<g transform="translate(443.35,173.46)"><polygon points="0,-8.2 1.93,-2.65 7.8,-2.53 3.12,1.01 4.82,6.63 0,3.28 -4.82,6.63 -3.12,1.01 -7.8,-2.53 -1.93,-2.65" fill="none" stroke="#800000" stroke-width="1.3" stroke-linejoin="miter"/><polygon points="0,-8.2 -1.93,-2.65 -7.8,-2.53 -3.12,1.01 -4.82,6.63 0,3.28" fill="#800000" stroke="#800000" stroke-width="1.3"/></g>
<g transform="translate(449.82,168.19)"><polygon points="0,-8.2 1.93,-2.65 7.8,-2.53 3.12,1.01 4.82,6.63 0,3.28 -4.82,6.63 -3.12,1.01 -7.8,-2.53 -1.93,-2.65" fill="none" stroke="#800000" stroke-width="1.3" stroke-linejoin="miter"/><polygon points="0,-8.2 -1.93,-2.65 -7.8,-2.53 -3.12,1.01 -4.82,6.63 0,3.28" fill="#800000" stroke="#800000" stroke-width="1.3"/></g>
<g transform="translate(456.29,162.92)"><polygon points="0,-8.2 1.93,-2.65 7.8,-2.53 3.12,1.01 4.82,6.63 0,3.28 -4.82,6.63 -3.12,1.01 -7.8,-2.53 -1.93,-2.65" fill="none" stroke="#800000" stroke-width="1.3" stroke-linejoin="miter"/><polygon points="0,-8.2 -1.93,-2.65 -7.8,-2.53 -3.12,1.01 -4.82,6.63 0,3.28" fill="#800000" stroke="#800000" stroke-width="1.3"/></g>
<g transform="translate(462.76,159.73)"><polygon points="0,-8.2 1.93,-2.65 7.8,-2.53 3.12,1.01 4.82,6.63 0,3.28 -4.82,6.63 -3.12,1.01 -7.8,-2.53 -1.93,-2.65" fill="none" stroke="#800000" stroke-width="1.3" stroke-linejoin="miter"/><polygon points="0,-8.2 -1.93,-2.65 -7.8,-2.53 -3.12,1.01 -4.82,6.63 0,3.28" fill="#800000" stroke="#800000" stroke-width="1.3"/></g>
<g transform="translate(469.23,157.35)"><polygon points="0,-8.2 1.93,-2.65 7.8,-2.53 3.12,1.01 4.82,6.63 0,3.28 -4.82,6.63 -3.12,1.01 -7.8,-2.53 -1.93,-2.65" fill="none" stroke="#800000" stroke-width="1.3" stroke-linejoin="miter"/><polygon points="0,-8.2 -1.93,-2.65 -7.8,-2.53 -3.12,1.01 -4.82,6.63 0,3.28" fill="#800000" stroke="#800000" stroke-width="1.3"/></g>
<g transform="translate(475.7,155.04)"><polygon points="0,-8.2 1.93,-2.65 7.8,-2.53 3.12,1.01 4.82,6.63 0,3.28 -4.82,6.63 -3.12,1.01 -7.8,-2.53 -1.93,-2.65" fill="none" stroke="#800000" stroke-width="1.3" stroke-linejoin="miter"/><polygon points="0,-8.2 -1.93,-2.65 -7.8,-2.53 -3.12,1.01 -4.82,6.63 0,3.28" fill="#800000" stroke="#800000" stroke-width="1.3"/></g>
<g transform="translate(482.17,152.89)"><polygon points="0,-8.2 1.93,-2.65 7.8,-2.53 3.12,1.01 4.82,6.63 0,3.28 -4.82,6.63 -3.12,1.01 -7.8,-2.53 -1.93,-2.65" fill="none" stroke="#800000" stroke-width="1.3" stroke-linejoin="miter"/><polygon points="0,-8.2 -1.93,-2.65 -7.8,-2.53 -3.12,1.01 -4.82,6.63 0,3.28" fill="#800000" stroke="#800000" stroke-width="1.3"/></g>
<g transform="translate(488.64,150.74)"><polygon points="0,-8.2 1.93,-2.65 7.8,-2.53 3.12,1.01 4.82,6.63 0,3.28 -4.82,6.63 -3.12,1.01 -7.8,-2.53 -1.93,-2.65" fill="none" stroke="#800000" stroke-width="1.3" stroke-linejoin="miter"/><polygon points="0,-8.2 -1.93,-2.65 -7.8,-2.53 -3.12,1.01 -4.82,6.63 0,3.28" fill="#800000" stroke="#800000" stroke-width="1.3"/></g>
<g transform="translate(495.11,149.01)"><polygon points="0,-8.2 1.93,-2.65 7.8,-2.53 3.12,1.01 4.82,6.63 0,3.28 -4.82,6.63 -3.12,1.01 -7.8,-2.53 -1.93,-2.65" fill="none" stroke="#800000" stroke-width="1.3" stroke-linejoin="miter"/><polygon points="0,-8.2 -1.93,-2.65 -7.8,-2.53 -3.12,1.01 -4.82,6.63 0,3.28" fill="#800000" stroke="#800000" stroke-width="1.3"/></g>
<g transform="translate(501.58,147.32)"><polygon points="0,-8.2 1.93,-2.65 7.8,-2.53 3.12,1.01 4.82,6.63 0,3.28 -4.82,6.63 -3.12,1.01 -7.8,-2.53 -1.93,-2.65" fill="none" stroke="#800000" stroke-width="1.3" stroke-linejoin="miter"/><polygon points="0,-8.2 -1.93,-2.65 -7.8,-2.53 -3.12,1.01 -4.82,6.63 0,3.28" fill="#800000" stroke="#800000" stroke-width="1.3"/></g>
<g transform="translate(508.05,145.63)"><polygon points="0,-8.2 1.93,-2.65 7.8,-2.53 3.12,1.01 4.82,6.63 0,3.28 -4.82,6.63 -3.12,1.01 -7.8,-2.53 -1.93,-2.65" fill="none" stroke="#800000" stroke-width="1.3" stroke-linejoin="miter"/><polygon points="0,-8.2 -1.93,-2.65 -7.8,-2.53 -3.12,1.01 -4.82,6.63 0,3.28" fill="#800000" stroke="#800000" stroke-width="1.3"/></g>
<g transform="translate(514.52,143.93)"><polygon points="0,-8.2 1.93,-2.65 7.8,-2.53 3.12,1.01 4.82,6.63 0,3.28 -4.82,6.63 -3.12,1.01 -7.8,-2.53 -1.93,-2.65" fill="none" stroke="#800000" stroke-width="1.3" stroke-linejoin="miter"/><polygon points="0,-8.2 -1.93,-2.65 -7.8,-2.53 -3.12,1.01 -4.82,6.63 0,3.28" fill="#800000" stroke="#800000" stroke-width="1.3"/></g>
<g transform="translate(520.99,142.24)"><polygon points="0,-8.2 1.93,-2.65 7.8,-2.53 3.12,1.01 4.82,6.63 0,3.28 -4.82,6.63 -3.12,1.01 -7.8,-2.53 -1.93,-2.65" fill="none" stroke="#800000" stroke-width="1.3" stroke-linejoin="miter"/><polygon points="0,-8.2 -1.93,-2.65 -7.8,-2.53 -3.12,1.01 -4.82,6.63 0,3.28" fill="#800000" stroke="#800000" stroke-width="1.3"/></g>
<g transform="translate(527.46,140.7)"><polygon points="0,-8.2 1.93,-2.65 7.8,-2.53 3.12,1.01 4.82,6.63 0,3.28 -4.82,6.63 -3.12,1.01 -7.8,-2.53 -1.93,-2.65" fill="none" stroke="#800000" stroke-width="1.3" stroke-linejoin="miter"/><polygon points="0,-8.2 -1.93,-2.65 -7.8,-2.53 -3.12,1.01 -4.82,6.63 0,3.28" fill="#800000" stroke="#800000" stroke-width="1.3"/></g>
<g transform="translate(533.93,139.28)"><polygon points="0,-8.2 1.93,-2.65 7.8,-2.53 3.12,1.01 4.82,6.63 0,3.28 -4.82,6.63 -3.12,1.01 -7.8,-2.53 -1.93,-2.65" fill="none" stroke="#800000" stroke-width="1.3" stroke-linejoin="miter"/><polygon points="0,-8.2 -1.93,-2.65 -7.8,-2.53 -3.12,1.01 -4.82,6.63 0,3.28" fill="#800000" stroke="#800000" stroke-width="1.3"/></g>
<g transform="translate(540.4,137.86)"><polygon points="0,-8.2 1.93,-2.65 7.8,-2.53 3.12,1.01 4.82,6.63 0,3.28 -4.82,6.63 -3.12,1.01 -7.8,-2.53 -1.93,-2.65" fill="none" stroke="#800000" stroke-width="1.3" stroke-linejoin="miter"/><polygon points="0,-8.2 -1.93,-2.65 -7.8,-2.53 -3.12,1.01 -4.82,6.63 0,3.28" fill="#800000" stroke="#800000" stroke-width="1.3"/></g>
<g transform="translate(546.87,136.44)"><polygon points="0,-8.2 1.93,-2.65 7.8,-2.53 3.12,1.01 4.82,6.63 0,3.28 -4.82,6.63 -3.12,1.01 -7.8,-2.53 -1.93,-2.65" fill="none" stroke="#800000" stroke-width="1.3" stroke-linejoin="miter"/><polygon points="0,-8.2 -1.93,-2.65 -7.8,-2.53 -3.12,1.01 -4.82,6.63 0,3.28" fill="#800000" stroke="#800000" stroke-width="1.3"/></g>
<g transform="translate(553.34,134.52)"><polygon points="0,-8.2 1.93,-2.65 7.8,-2.53 3.12,1.01 4.82,6.63 0,3.28 -4.82,6.63 -3.12,1.01 -7.8,-2.53 -1.93,-2.65" fill="none" stroke="#800000" stroke-width="1.3" stroke-linejoin="miter"/><polygon points="0,-8.2 -1.93,-2.65 -7.8,-2.53 -3.12,1.01 -4.82,6.63 0,3.28" fill="#800000" stroke="#800000" stroke-width="1.3"/></g>
<g transform="translate(559.81,132.55)"><polygon points="0,-8.2 1.93,-2.65 7.8,-2.53 3.12,1.01 4.82,6.63 0,3.28 -4.82,6.63 -3.12,1.01 -7.8,-2.53 -1.93,-2.65" fill="none" stroke="#800000" stroke-width="1.3" stroke-linejoin="miter"/><polygon points="0,-8.2 -1.93,-2.65 -7.8,-2.53 -3.12,1.01 -4.82,6.63 0,3.28" fill="#800000" stroke="#800000" stroke-width="1.3"/></g>
<g transform="translate(566.28,130.67)"><polygon points="0,-8.2 1.93,-2.65 7.8,-2.53 3.12,1.01 4.82,6.63 0,3.28 -4.82,6.63 -3.12,1.01 -7.8,-2.53 -1.93,-2.65" fill="none" stroke="#800000" stroke-width="1.3" stroke-linejoin="miter"/><polygon points="0,-8.2 -1.93,-2.65 -7.8,-2.53 -3.12,1.01 -4.82,6.63 0,3.28" fill="#800000" stroke="#800000" stroke-width="1.3"/></g>
<g transform="translate(572.75,129.1)"><polygon points="0,-8.2 1.93,-2.65 7.8,-2.53 3.12,1.01 4.82,6.63 0,3.28 -4.82,6.63 -3.12,1.01 -7.8,-2.53 -1.93,-2.65" fill="none" stroke="#800000" stroke-width="1.3" stroke-linejoin="miter"/><polygon points="0,-8.2 -1.93,-2.65 -7.8,-2.53 -3.12,1.01 -4.82,6.63 0,3.28" fill="#800000" stroke="#800000" stroke-width="1.3"/></g>
<g transform="translate(579.22,129.1)"><polygon points="0,-8.2 1.93,-2.65 7.8,-2.53 3.12,1.01 4.82,6.63 0,3.28 -4.82,6.63 -3.12,1.01 -7.8,-2.53 -1.93,-2.65" fill="none" stroke="#800000" stroke-width="1.3" stroke-linejoin="miter"/><polygon points="0,-8.2 -1.93,-2.65 -7.8,-2.53 -3.12,1.01 -4.82,6.63 0,3.28" fill="#800000" stroke="#800000" stroke-width="1.3"/></g>
<g transform="translate(585.69,129.38)"><polygon points="0,-8.2 1.93,-2.65 7.8,-2.53 3.12,1.01 4.82,6.63 0,3.28 -4.82,6.63 -3.12,1.01 -7.8,-2.53 -1.93,-2.65" fill="none" stroke="#800000" stroke-width="1.3" stroke-linejoin="miter"/><polygon points="0,-8.2 -1.93,-2.65 -7.8,-2.53 -3.12,1.01 -4.82,6.63 0,3.28" fill="#800000" stroke="#800000" stroke-width="1.3"/></g>
<g transform="translate(592.16,130.53)"><polygon points="0,-8.2 1.93,-2.65 7.8,-2.53 3.12,1.01 4.82,6.63 0,3.28 -4.82,6.63 -3.12,1.01 -7.8,-2.53 -1.93,-2.65" fill="none" stroke="#800000" stroke-width="1.3" stroke-linejoin="miter"/><polygon points="0,-8.2 -1.93,-2.65 -7.8,-2.53 -3.12,1.01 -4.82,6.63 0,3.28" fill="#800000" stroke="#800000" stroke-width="1.3"/></g>
<g transform="translate(598.63,131.08)"><polygon points="0,-8.2 1.93,-2.65 7.8,-2.53 3.12,1.01 4.82,6.63 0,3.28 -4.82,6.63 -3.12,1.01 -7.8,-2.53 -1.93,-2.65" fill="none" stroke="#800000" stroke-width="1.3" stroke-linejoin="miter"/><polygon points="0,-8.2 -1.93,-2.65 -7.8,-2.53 -3.12,1.01 -4.82,6.63 0,3.28" fill="#800000" stroke="#800000" stroke-width="1.3"/></g>
<g transform="translate(605.1,130.4)"><polygon points="0,-8.2 1.93,-2.65 7.8,-2.53 3.12,1.01 4.82,6.63 0,3.28 -4.82,6.63 -3.12,1.01 -7.8,-2.53 -1.93,-2.65" fill="none" stroke="#800000" stroke-width="1.3" stroke-linejoin="miter"/><polygon points="0,-8.2 -1.93,-2.65 -7.8,-2.53 -3.12,1.01 -4.82,6.63 0,3.28" fill="#800000" stroke="#800000" stroke-width="1.3"/></g>
<g transform="translate(611.57,129.11)"><polygon points="0,-8.2 1.93,-2.65 7.8,-2.53 3.12,1.01 4.82,6.63 0,3.28 -4.82,6.63 -3.12,1.01 -7.8,-2.53 -1.93,-2.65" fill="none" stroke="#800000" stroke-width="1.3" stroke-linejoin="miter"/><polygon points="0,-8.2 -1.93,-2.65 -7.8,-2.53 -3.12,1.01 -4.82,6.63 0,3.28" fill="#800000" stroke="#800000" stroke-width="1.3"/></g>
<g transform="translate(618.04,126.92)"><polygon points="0,-8.2 1.93,-2.65 7.8,-2.53 3.12,1.01 4.82,6.63 0,3.28 -4.82,6.63 -3.12,1.01 -7.8,-2.53 -1.93,-2.65" fill="none" stroke="#800000" stroke-width="1.3" stroke-linejoin="miter"/><polygon points="0,-8.2 -1.93,-2.65 -7.8,-2.53 -3.12,1.01 -4.82,6.63 0,3.28" fill="#800000" stroke="#800000" stroke-width="1.3"/></g>
<g transform="translate(624.51,124.98)"><polygon points="0,-8.2 1.93,-2.65 7.8,-2.53 3.12,1.01 4.82,6.63 0,3.28 -4.82,6.63 -3.12,1.01 -7.8,-2.53 -1.93,-2.65" fill="none" stroke="#800000" stroke-width="1.3" stroke-linejoin="miter"/><polygon points="0,-8.2 -1.93,-2.65 -7.8,-2.53 -3.12,1.01 -4.82,6.63 0,3.28" fill="#800000" stroke="#800000" stroke-width="1.3"/></g>
<g transform="translate(630.98,123.34)"><polygon points="0,-8.2 1.93,-2.65 7.8,-2.53 3.12,1.01 4.82,6.63 0,3.28 -4.82,6.63 -3.12,1.01 -7.8,-2.53 -1.93,-2.65" fill="none" stroke="#800000" stroke-width="1.3" stroke-linejoin="miter"/><polygon points="0,-8.2 -1.93,-2.65 -7.8,-2.53 -3.12,1.01 -4.82,6.63 0,3.28" fill="#800000" stroke="#800000" stroke-width="1.3"/></g>
<g transform="translate(637.45,119.91)"><polygon points="0,-8.2 1.93,-2.65 7.8,-2.53 3.12,1.01 4.82,6.63 0,3.28 -4.82,6.63 -3.12,1.01 -7.8,-2.53 -1.93,-2.65" fill="none" stroke="#800000" stroke-width="1.3" stroke-linejoin="miter"/><polygon points="0,-8.2 -1.93,-2.65 -7.8,-2.53 -3.12,1.01 -4.82,6.63 0,3.28" fill="#800000" stroke="#800000" stroke-width="1.3"/></g>
<g transform="translate(643.92,115.62)"><polygon points="0,-8.2 1.93,-2.65 7.8,-2.53 3.12,1.01 4.82,6.63 0,3.28 -4.82,6.63 -3.12,1.01 -7.8,-2.53 -1.93,-2.65" fill="none" stroke="#800000" stroke-width="1.3" stroke-linejoin="miter"/><polygon points="0,-8.2 -1.93,-2.65 -7.8,-2.53 -3.12,1.01 -4.82,6.63 0,3.28" fill="#800000" stroke="#800000" stroke-width="1.3"/></g>
<g transform="translate(650.39,109.51)"><polygon points="0,-8.2 1.93,-2.65 7.8,-2.53 3.12,1.01 4.82,6.63 0,3.28 -4.82,6.63 -3.12,1.01 -7.8,-2.53 -1.93,-2.65" fill="none" stroke="#800000" stroke-width="1.3" stroke-linejoin="miter"/><polygon points="0,-8.2 -1.93,-2.65 -7.8,-2.53 -3.12,1.01 -4.82,6.63 0,3.28" fill="#800000" stroke="#800000" stroke-width="1.3"/></g>
<g transform="translate(656.86,105.06)"><polygon points="0,-8.2 1.93,-2.65 7.8,-2.53 3.12,1.01 4.82,6.63 0,3.28 -4.82,6.63 -3.12,1.01 -7.8,-2.53 -1.93,-2.65" fill="none" stroke="#800000" stroke-width="1.3" stroke-linejoin="miter"/><polygon points="0,-8.2 -1.93,-2.65 -7.8,-2.53 -3.12,1.01 -4.82,6.63 0,3.28" fill="#800000" stroke="#800000" stroke-width="1.3"/></g>
<g transform="translate(663.33,102.85)"><polygon points="0,-8.2 1.93,-2.65 7.8,-2.53 3.12,1.01 4.82,6.63 0,3.28 -4.82,6.63 -3.12,1.01 -7.8,-2.53 -1.93,-2.65" fill="none" stroke="#800000" stroke-width="1.3" stroke-linejoin="miter"/><polygon points="0,-8.2 -1.93,-2.65 -7.8,-2.53 -3.12,1.01 -4.82,6.63 0,3.28" fill="#800000" stroke="#800000" stroke-width="1.3"/></g>
<g transform="translate(669.8,102.4)"><polygon points="0,-8.2 1.93,-2.65 7.8,-2.53 3.12,1.01 4.82,6.63 0,3.28 -4.82,6.63 -3.12,1.01 -7.8,-2.53 -1.93,-2.65" fill="none" stroke="#800000" stroke-width="1.3" stroke-linejoin="miter"/><polygon points="0,-8.2 -1.93,-2.65 -7.8,-2.53 -3.12,1.01 -4.82,6.63 0,3.28" fill="#800000" stroke="#800000" stroke-width="1.3"/></g>
<!-- inset of (a): Ohmic fit -->
<rect x="413.1" y="243" width="261.5" height="195.3" rx="0" fill="#fff" stroke="#840884" stroke-width="2"/>
<line x1="413.1" y1="438.3" x2="413.1" y2="442.9" stroke="#840884" stroke-width="1.6" stroke-linecap="butt"/>
<line x1="434.89" y1="438.3" x2="434.89" y2="441.3" stroke="#840884" stroke-width="1.6" stroke-linecap="butt"/>
<line x1="456.68" y1="438.3" x2="456.68" y2="442.9" stroke="#840884" stroke-width="1.6" stroke-linecap="butt"/>
<line x1="478.48" y1="438.3" x2="478.48" y2="441.3" stroke="#840884" stroke-width="1.6" stroke-linecap="butt"/>
<line x1="500.27" y1="438.3" x2="500.27" y2="442.9" stroke="#840884" stroke-width="1.6" stroke-linecap="butt"/>
<line x1="522.06" y1="438.3" x2="522.06" y2="441.3" stroke="#840884" stroke-width="1.6" stroke-linecap="butt"/>
<line x1="543.85" y1="438.3" x2="543.85" y2="442.9" stroke="#840884" stroke-width="1.6" stroke-linecap="butt"/>
<line x1="565.64" y1="438.3" x2="565.64" y2="441.3" stroke="#840884" stroke-width="1.6" stroke-linecap="butt"/>
<line x1="587.43" y1="438.3" x2="587.43" y2="442.9" stroke="#840884" stroke-width="1.6" stroke-linecap="butt"/>
<line x1="609.23" y1="438.3" x2="609.23" y2="441.3" stroke="#840884" stroke-width="1.6" stroke-linecap="butt"/>
<line x1="631.02" y1="438.3" x2="631.02" y2="442.9" stroke="#840884" stroke-width="1.6" stroke-linecap="butt"/>
<line x1="652.81" y1="438.3" x2="652.81" y2="441.3" stroke="#840884" stroke-width="1.6" stroke-linecap="butt"/>
<line x1="674.6" y1="438.3" x2="674.6" y2="442.9" stroke="#840884" stroke-width="1.6" stroke-linecap="butt"/>
<line x1="408.5" y1="438.3" x2="413.1" y2="438.3" stroke="#840884" stroke-width="1.6" stroke-linecap="butt"/>
<line x1="410.1" y1="405.75" x2="413.1" y2="405.75" stroke="#840884" stroke-width="1.6" stroke-linecap="butt"/>
<line x1="408.5" y1="373.2" x2="413.1" y2="373.2" stroke="#840884" stroke-width="1.6" stroke-linecap="butt"/>
<line x1="410.1" y1="340.65" x2="413.1" y2="340.65" stroke="#840884" stroke-width="1.6" stroke-linecap="butt"/>
<line x1="408.5" y1="308.1" x2="413.1" y2="308.1" stroke="#840884" stroke-width="1.6" stroke-linecap="butt"/>
<line x1="410.1" y1="275.55" x2="413.1" y2="275.55" stroke="#840884" stroke-width="1.6" stroke-linecap="butt"/>
<line x1="408.5" y1="243" x2="413.1" y2="243" stroke="#840884" stroke-width="1.6" stroke-linecap="butt"/>
<text transform="translate(376.33,247.6)" font-size="13.2" fill="#A452C6">300µ</text>
<text transform="translate(376.33,312.7)" font-size="13.2" fill="#A452C6">200µ</text>
<text transform="translate(376.33,377.8)" font-size="13.2" fill="#A452C6">100µ</text>
<text transform="translate(398.84,442.9)" font-size="13.2" fill="#A452C6">0</text>
<text transform="translate(408.71,459) scale(1.0300,1)" font-size="12.9" fill="#6A38AC">0</text>
<text transform="translate(450.86,459) scale(1.0300,1)" font-size="12.9" fill="#6A38AC">10</text>
<text transform="translate(495.93,459) scale(1.0300,1)" font-size="12.9" fill="#6A38AC">20</text>
<text transform="translate(537.73,459) scale(1.0300,1)" font-size="12.9" fill="#6A38AC">30</text>
<text transform="translate(581.73,459) scale(1.0300,1)" font-size="12.9" fill="#6A38AC">40</text>
<text transform="translate(624.39,459) scale(1.0300,1)" font-size="12.9" fill="#6A38AC">50</text>
<text transform="translate(667.13,459) scale(1.0300,1)" font-size="12.9" fill="#6A38AC">60</text>
<text transform="translate(524.1,472.3) scale(1.0134,1)" font-size="16" fill="#8A44A8">E [MV/cm]</text>
<text transform="translate(371.4,381.42) rotate(-90) scale(0.8232,1)" font-size="18.5" fill="#9A48B8">Ln J [A/cm<tspan dy="-7.77" font-size="11.1">2</tspan><tspan dy="7.77">]</tspan></text>
<line x1="429.5" y1="272.2" x2="486.6" y2="272.2" stroke="#202020" stroke-width="1.1" stroke-linecap="butt"/>
<ellipse cx="458" cy="272.2" rx="4.9" ry="4.9" fill="#fff"/>
<g transform="translate(458,272.2)"><ellipse rx="3.4" ry="3.4" fill="#fff" stroke="#0000FF" stroke-width="1.2"/><path d="M0,-3.4 A3.4,3.4 0 0 0 0,3.4 Z" fill="#0000FF"/></g>
<text transform="translate(492.41,280.3) scale(1.1209,1)" font-size="23.6" fill="#000">Ohmic</text>
<text transform="translate(441.66,310) scale(1.0608,1)" font-size="24.6" fill="#000">-10 to -20 V</text>
<g transform="translate(414.16,435.45)"><ellipse rx="3.3" ry="3.3" fill="#fff" stroke="#00FFFF" stroke-width="1.2"/><path d="M0,-3.3 A3.3,3.3 0 0 0 0,3.3 Z" fill="#00FFFF"/></g>
<g transform="translate(420.52,436.1)"><ellipse rx="3.3" ry="3.3" fill="#fff" stroke="#FF8000" stroke-width="1.2"/><path d="M0,-3.3 A3.3,3.3 0 0 0 0,3.3 Z" fill="#FF8000"/></g>
<g transform="translate(427.1,436.76)"><ellipse rx="3.3" ry="3.3" fill="#fff" stroke="#000000" stroke-width="1.2"/><path d="M0,-3.3 A3.3,3.3 0 0 0 0,3.3 Z" fill="#000000"/></g>
<g transform="translate(433.9,436.76)"><ellipse rx="3.3" ry="3.3" fill="#fff" stroke="#800000" stroke-width="1.2"/><path d="M0,-3.3 A3.3,3.3 0 0 0 0,3.3 Z" fill="#800000"/></g>
<g transform="translate(440.48,436.32)"><ellipse rx="3.3" ry="3.3" fill="#fff" stroke="#FFFF80" stroke-width="1.2"/><path d="M0,-3.3 A3.3,3.3 0 0 0 0,3.3 Z" fill="#FFFF80"/></g>
<g transform="translate(447.5,436.1)"><ellipse rx="3.3" ry="3.3" fill="#fff" stroke="#FFFF00" stroke-width="1.2"/><path d="M0,-3.3 A3.3,3.3 0 0 0 0,3.3 Z" fill="#FFFF00"/></g>
<g transform="translate(454.09,435.66)"><ellipse rx="3.3" ry="3.3" fill="#fff" stroke="#FF0080" stroke-width="1.2"/><path d="M0,-3.3 A3.3,3.3 0 0 0 0,3.3 Z" fill="#FF0080"/></g>
<g transform="translate(461.11,434.57)"><ellipse rx="3.3" ry="3.3" fill="#fff" stroke="#00FF00" stroke-width="1.2"/><path d="M0,-3.3 A3.3,3.3 0 0 0 0,3.3 Z" fill="#00FF00"/></g>
<g transform="translate(467.69,434.57)"><ellipse rx="3.3" ry="3.3" fill="#fff" stroke="#008080" stroke-width="1.2"/><path d="M0,-3.3 A3.3,3.3 0 0 0 0,3.3 Z" fill="#008080"/></g>
<g transform="translate(474.27,433.25)"><ellipse rx="3.3" ry="3.3" fill="#fff" stroke="#FF80FF" stroke-width="1.2"/><path d="M0,-3.3 A3.3,3.3 0 0 0 0,3.3 Z" fill="#FF80FF"/></g>
<g transform="translate(481.51,433.91)"><ellipse rx="3.3" ry="3.3" fill="#fff" stroke="#000080" stroke-width="1.2"/><path d="M0,-3.3 A3.3,3.3 0 0 0 0,3.3 Z" fill="#000080"/></g>
<g transform="translate(488.09,435.01)"><ellipse rx="3.3" ry="3.3" fill="#fff" stroke="#C0C0C0" stroke-width="1.2"/><path d="M0,-3.3 A3.3,3.3 0 0 0 0,3.3 Z" fill="#C0C0C0"/></g>
<g transform="translate(494.89,431.72)"><ellipse rx="3.3" ry="3.3" fill="#fff" stroke="#00FFFF" stroke-width="1.2"/><path d="M0,-3.3 A3.3,3.3 0 0 0 0,3.3 Z" fill="#00FFFF"/></g>
<g transform="translate(501.69,431.06)"><ellipse rx="3.3" ry="3.3" fill="#fff" stroke="#FF8000" stroke-width="1.2"/><path d="M0,-3.3 A3.3,3.3 0 0 0 0,3.3 Z" fill="#FF8000"/></g>
<g transform="translate(508.49,430.18)"><ellipse rx="3.3" ry="3.3" fill="#fff" stroke="#000000" stroke-width="1.2"/><path d="M0,-3.3 A3.3,3.3 0 0 0 0,3.3 Z" fill="#000000"/></g>
<g transform="translate(515.52,426.23)"><ellipse rx="3.3" ry="3.3" fill="#fff" stroke="#800000" stroke-width="1.2"/><path d="M0,-3.3 A3.3,3.3 0 0 0 0,3.3 Z" fill="#800000"/></g>
<g transform="translate(522.1,424.04)"><ellipse rx="3.3" ry="3.3" fill="#fff" stroke="#FFFF80" stroke-width="1.2"/><path d="M0,-3.3 A3.3,3.3 0 0 0 0,3.3 Z" fill="#FFFF80"/></g>
<g transform="translate(528.68,420.09)"><ellipse rx="3.3" ry="3.3" fill="#fff" stroke="#FFFF00" stroke-width="1.2"/><path d="M0,-3.3 A3.3,3.3 0 0 0 0,3.3 Z" fill="#FFFF00"/></g>
<g transform="translate(535.26,415.26)"><ellipse rx="3.3" ry="3.3" fill="#fff" stroke="#FF0080" stroke-width="1.2"/><path d="M0,-3.3 A3.3,3.3 0 0 0 0,3.3 Z" fill="#FF0080"/></g>
<g transform="translate(542.28,410.87)"><ellipse rx="3.3" ry="3.3" fill="#fff" stroke="#00FF00" stroke-width="1.2"/><path d="M0,-3.3 A3.3,3.3 0 0 0 0,3.3 Z" fill="#00FF00"/></g>
<g transform="translate(548.86,402.1)"><ellipse rx="3.3" ry="3.3" fill="#fff" stroke="#008080" stroke-width="1.2"/><path d="M0,-3.3 A3.3,3.3 0 0 0 0,3.3 Z" fill="#008080"/></g>
<g transform="translate(555.66,390.03)"><ellipse rx="3.3" ry="3.3" fill="#fff" stroke="#FF80FF" stroke-width="1.2"/><path d="M0,-3.3 A3.3,3.3 0 0 0 0,3.3 Z" fill="#FF80FF"/></g>
<g transform="translate(562.25,383.01)"><ellipse rx="3.3" ry="3.3" fill="#fff" stroke="#000080" stroke-width="1.2"/><path d="M0,-3.3 A3.3,3.3 0 0 0 0,3.3 Z" fill="#000080"/></g>
<g transform="translate(569.27,371.38)"><ellipse rx="3.3" ry="3.3" fill="#fff" stroke="#C0C0C0" stroke-width="1.2"/><path d="M0,-3.3 A3.3,3.3 0 0 0 0,3.3 Z" fill="#C0C0C0"/></g>
<g transform="translate(575.85,351.64)"><ellipse rx="3.3" ry="3.3" fill="#fff" stroke="#00FFFF" stroke-width="1.2"/><path d="M0,-3.3 A3.3,3.3 0 0 0 0,3.3 Z" fill="#00FFFF"/></g>
<g transform="translate(582.65,341.76)"><ellipse rx="3.3" ry="3.3" fill="#fff" stroke="#FF8000" stroke-width="1.2"/><path d="M0,-3.3 A3.3,3.3 0 0 0 0,3.3 Z" fill="#FF8000"/></g>
<g transform="translate(589.45,330.36)"><ellipse rx="3.3" ry="3.3" fill="#fff" stroke="#000000" stroke-width="1.2"/><path d="M0,-3.3 A3.3,3.3 0 0 0 0,3.3 Z" fill="#000000"/></g>
<g transform="translate(596.25,318.29)"><ellipse rx="3.3" ry="3.3" fill="#fff" stroke="#800000" stroke-width="1.2"/><path d="M0,-3.3 A3.3,3.3 0 0 0 0,3.3 Z" fill="#800000"/></g>
<g transform="translate(603.27,314.78)"><ellipse rx="3.3" ry="3.3" fill="#fff" stroke="#FFFF80" stroke-width="1.2"/><path d="M0,-3.3 A3.3,3.3 0 0 0 0,3.3 Z" fill="#FFFF80"/></g>
<g transform="translate(609.86,308.85)"><ellipse rx="3.3" ry="3.3" fill="#fff" stroke="#FFFF00" stroke-width="1.2"/><path d="M0,-3.3 A3.3,3.3 0 0 0 0,3.3 Z" fill="#FFFF00"/></g>
<g transform="translate(616.44,298.98)"><ellipse rx="3.3" ry="3.3" fill="#fff" stroke="#FF0080" stroke-width="1.2"/><path d="M0,-3.3 A3.3,3.3 0 0 0 0,3.3 Z" fill="#FF0080"/></g>
<g transform="translate(623.46,288.45)"><ellipse rx="3.3" ry="3.3" fill="#fff" stroke="#00FF00" stroke-width="1.2"/><path d="M0,-3.3 A3.3,3.3 0 0 0 0,3.3 Z" fill="#00FF00"/></g>
<g transform="translate(629.6,272)"><ellipse rx="3.3" ry="3.3" fill="#fff" stroke="#008080" stroke-width="1.2"/><path d="M0,-3.3 A3.3,3.3 0 0 0 0,3.3 Z" fill="#008080"/></g>
<g transform="translate(636.62,272.65)"><ellipse rx="3.3" ry="3.3" fill="#fff" stroke="#FF80FF" stroke-width="1.2"/><path d="M0,-3.3 A3.3,3.3 0 0 0 0,3.3 Z" fill="#FF80FF"/></g>
<g transform="translate(643.86,273.75)"><ellipse rx="3.3" ry="3.3" fill="#fff" stroke="#000080" stroke-width="1.2"/><path d="M0,-3.3 A3.3,3.3 0 0 0 0,3.3 Z" fill="#000080"/></g>
<g transform="translate(650.44,268.27)"><ellipse rx="3.3" ry="3.3" fill="#fff" stroke="#C0C0C0" stroke-width="1.2"/><path d="M0,-3.3 A3.3,3.3 0 0 0 0,3.3 Z" fill="#C0C0C0"/></g>
<g transform="translate(656.59,247.42)"><ellipse rx="3.3" ry="3.3" fill="#fff" stroke="#00FFFF" stroke-width="1.2"/><path d="M0,-3.3 A3.3,3.3 0 0 0 0,3.3 Z" fill="#00FFFF"/></g>
<line x1="460.5" y1="438.6" x2="535.3" y2="418.5" stroke="#000080" stroke-width="2.2" stroke-linecap="round"/>
<!-- Poole-Frenkel plot, top row -->
<rect x="808.3" y="100.3" width="434.1" height="370.5" rx="0" fill="none" stroke="#800080" stroke-width="3.8"/>
<line x1="801.6" y1="100.3" x2="808.3" y2="100.3" stroke="#800080" stroke-width="3" stroke-linecap="round"/>
<line x1="804.2" y1="223.35" x2="808.3" y2="223.35" stroke="#800080" stroke-width="3" stroke-linecap="round"/>
<line x1="801.6" y1="346.4" x2="808.3" y2="346.4" stroke="#800080" stroke-width="3" stroke-linecap="round"/>
<line x1="804.2" y1="469.45" x2="808.3" y2="469.45" stroke="#800080" stroke-width="3" stroke-linecap="round"/>
<line x1="808.2" y1="470.8" x2="808.2" y2="477.3" stroke="#800080" stroke-width="3" stroke-linecap="butt"/>
<line x1="895" y1="470.8" x2="895" y2="477.3" stroke="#800080" stroke-width="3" stroke-linecap="butt"/>
<line x1="981.8" y1="470.8" x2="981.8" y2="477.3" stroke="#800080" stroke-width="3" stroke-linecap="butt"/>
<line x1="1068.6" y1="470.8" x2="1068.6" y2="477.3" stroke="#800080" stroke-width="3" stroke-linecap="butt"/>
<line x1="1155.4" y1="470.8" x2="1155.4" y2="477.3" stroke="#800080" stroke-width="3" stroke-linecap="butt"/>
<line x1="1242.2" y1="470.8" x2="1242.2" y2="477.3" stroke="#800080" stroke-width="3" stroke-linecap="butt"/>
<text transform="translate(763.17,106.6) scale(0.9150,1)" font-size="25.3" fill="#9B34A4">-26</text>
<text transform="translate(763.26,355.9) scale(0.9324,1)" font-size="25.3" fill="#9B34A4">-28</text>
<text transform="translate(803.15,505.3) scale(0.9500,1)" font-size="26" fill="#4E1090">0</text>
<text transform="translate(889.71,500.7) scale(0.9500,1)" font-size="26" fill="#4E1090">20</text>
<text transform="translate(967.48,504.7) scale(0.9500,1)" font-size="26" fill="#4E1090">40</text>
<text transform="translate(1061.71,499) scale(0.9500,1)" font-size="26" fill="#4E1090">60</text>
<text transform="translate(1148.43,501.3) scale(0.9500,1)" font-size="26" fill="#4E1090">80</text>
<text transform="translate(1213.24,502.5) scale(0.9500,1)" font-size="26" fill="#4E1090">100</text>
<text transform="translate(963.17,538) scale(0.9042,1)" font-size="35" fill="#7D1A8C">E<tspan dy="-17.5" font-size="21.7">1/2</tspan><tspan dy="17.5"> [V/cm]</tspan><tspan dy="-17.5" font-size="21.7">1/2</tspan></text>
<text transform="translate(749,411.04) rotate(-90) scale(1.0614,1)" font-size="33.5" fill="#7D1A8C">Ln(J/E) [A/cm*V]</text>
<line x1="818.4" y1="128.7" x2="891.5" y2="128.7" stroke="#404040" stroke-width="1.3" stroke-linecap="butt"/>
<ellipse cx="854.1" cy="128.7" rx="7.8" ry="7.8" fill="#fff"/>
<g transform="translate(854.1,128.7)"><ellipse rx="5.6" ry="5.6" fill="#fff" stroke="#808000" stroke-width="1.5"/><path d="M0,-5.6 A5.6,5.6 0 0 0 0,5.6 Z" fill="#808000"/></g>
<text transform="translate(901.15,142) scale(0.8760,1)" font-size="37.8" fill="#000">Poole- Frenkel</text>
<text transform="translate(908.28,187.6) scale(0.8735,1)" font-size="37.8" fill="#000">-20 to -30 V</text>
<line x1="852.8" y1="446.8" x2="1069.5" y2="207.8" stroke="#6B0B87" stroke-width="3.6" stroke-linecap="round"/>
<g transform="translate(1235.6,141.1)"><ellipse rx="6.1" ry="6.9" fill="#fff" stroke="#000080" stroke-width="1.5"/><path d="M0,-6.9 A6.1,6.9 0 0 0 0,6.9 Z" fill="#000080"/></g>
<g transform="translate(1223.8,167.4)"><ellipse rx="6.1" ry="6.9" fill="#fff" stroke="#FF80FF" stroke-width="1.5"/><path d="M0,-6.9 A6.1,6.9 0 0 0 0,6.9 Z" fill="#FF80FF"/></g>
<g transform="translate(1211.1,184.4)"><ellipse rx="6.1" ry="6.9" fill="#fff" stroke="#008080" stroke-width="1.5"/><path d="M0,-6.9 A6.1,6.9 0 0 0 0,6.9 Z" fill="#008080"/></g>
<g transform="translate(1198.3,187.2)"><ellipse rx="6.1" ry="6.9" fill="#fff" stroke="#00FF00" stroke-width="1.5"/><path d="M0,-6.9 A6.1,6.9 0 0 0 0,6.9 Z" fill="#00FF00"/></g>
<g transform="translate(1185.6,195.1)"><ellipse rx="6.1" ry="6.9" fill="#fff" stroke="#FF0080" stroke-width="1.5"/><path d="M0,-6.9 A6.1,6.9 0 0 0 0,6.9 Z" fill="#FF0080"/></g>
<g transform="translate(1172,190.5)"><ellipse rx="6.1" ry="6.9" fill="#fff" stroke="#FFFF00" stroke-width="1.5"/><path d="M0,-6.9 A6.1,6.9 0 0 0 0,6.9 Z" fill="#FFFF00"/></g>
<g transform="translate(1158.8,183.5)"><ellipse rx="6.1" ry="6.9" fill="#fff" stroke="#FFFF80" stroke-width="1.5"/><path d="M0,-6.9 A6.1,6.9 0 0 0 0,6.9 Z" fill="#FFFF80"/></g>
<g transform="translate(1145.6,188.8)"><ellipse rx="6.1" ry="6.9" fill="#fff" stroke="#800000" stroke-width="1.5"/><path d="M0,-6.9 A6.1,6.9 0 0 0 0,6.9 Z" fill="#800000"/></g>
<g transform="translate(1131.6,194.7)"><ellipse rx="6.1" ry="6.9" fill="#fff" stroke="#000000" stroke-width="1.5"/><path d="M0,-6.9 A6.1,6.9 0 0 0 0,6.9 Z" fill="#000000"/></g>
<g transform="translate(1117.7,200)"><ellipse rx="6.1" ry="6.9" fill="#fff" stroke="#FF8000" stroke-width="1.5"/><path d="M0,-6.9 A6.1,6.9 0 0 0 0,6.9 Z" fill="#FF8000"/></g>
<g transform="translate(1103.3,205.3)"><ellipse rx="6.1" ry="6.9" fill="#fff" stroke="#00FFFF" stroke-width="1.5"/><path d="M0,-6.9 A6.1,6.9 0 0 0 0,6.9 Z" fill="#00FFFF"/></g>
<g transform="translate(1088.9,201.2)"><ellipse rx="6.1" ry="6.9" fill="#fff" stroke="#C0C0C0" stroke-width="1.5"/><path d="M0,-6.9 A6.1,6.9 0 0 0 0,6.9 Z" fill="#C0C0C0"/></g>
<g transform="translate(1074.5,207.4)"><ellipse rx="6.1" ry="6.9" fill="#fff" stroke="#000080" stroke-width="1.5"/><path d="M0,-6.9 A6.1,6.9 0 0 0 0,6.9 Z" fill="#000080"/></g>
<g transform="translate(1059.6,218.9)"><ellipse rx="6.1" ry="6.9" fill="#fff" stroke="#FF80FF" stroke-width="1.5"/><path d="M0,-6.9 A6.1,6.9 0 0 0 0,6.9 Z" fill="#FF80FF"/></g>
<g transform="translate(1044.1,222.7)"><ellipse rx="6.1" ry="6.9" fill="#fff" stroke="#008080" stroke-width="1.5"/><path d="M0,-6.9 A6.1,6.9 0 0 0 0,6.9 Z" fill="#008080"/></g>
<g transform="translate(1028.3,244.4)"><ellipse rx="6.1" ry="6.9" fill="#fff" stroke="#00FF00" stroke-width="1.5"/><path d="M0,-6.9 A6.1,6.9 0 0 0 0,6.9 Z" fill="#00FF00"/></g>
<g transform="translate(1012.3,266.6)"><ellipse rx="6.1" ry="6.9" fill="#fff" stroke="#FF0080" stroke-width="1.5"/><path d="M0,-6.9 A6.1,6.9 0 0 0 0,6.9 Z" fill="#FF0080"/></g>
<g transform="translate(996.3,279.9)"><ellipse rx="6.1" ry="6.9" fill="#fff" stroke="#FFFF00" stroke-width="1.5"/><path d="M0,-6.9 A6.1,6.9 0 0 0 0,6.9 Z" fill="#FFFF00"/></g>
<g transform="translate(979.3,300.6)"><ellipse rx="6.1" ry="6.9" fill="#fff" stroke="#FFFF80" stroke-width="1.5"/><path d="M0,-6.9 A6.1,6.9 0 0 0 0,6.9 Z" fill="#FFFF80"/></g>
<g transform="translate(963.4,332.8)"><ellipse rx="6.1" ry="6.9" fill="#fff" stroke="#800000" stroke-width="1.5"/><path d="M0,-6.9 A6.1,6.9 0 0 0 0,6.9 Z" fill="#800000"/></g>
<g transform="translate(945.7,357.7)"><ellipse rx="6.1" ry="6.9" fill="#fff" stroke="#000000" stroke-width="1.5"/><path d="M0,-6.9 A6.1,6.9 0 0 0 0,6.9 Z" fill="#000000"/></g>
<g transform="translate(927.4,377)"><ellipse rx="6.1" ry="6.9" fill="#fff" stroke="#FF8000" stroke-width="1.5"/><path d="M0,-6.9 A6.1,6.9 0 0 0 0,6.9 Z" fill="#FF8000"/></g>
<g transform="translate(909.5,391.8)"><ellipse rx="6.1" ry="6.9" fill="#fff" stroke="#00FFFF" stroke-width="1.5"/><path d="M0,-6.9 A6.1,6.9 0 0 0 0,6.9 Z" fill="#00FFFF"/></g>
<g transform="translate(889.8,420)"><ellipse rx="6.1" ry="6.9" fill="#fff" stroke="#C0C0C0" stroke-width="1.5"/><path d="M0,-6.9 A6.1,6.9 0 0 0 0,6.9 Z" fill="#C0C0C0"/></g>
<g transform="translate(870.5,432.7)"><ellipse rx="6.1" ry="6.9" fill="#fff" stroke="#000080" stroke-width="1.5"/><path d="M0,-6.9 A6.1,6.9 0 0 0 0,6.9 Z" fill="#000080"/></g>
<g transform="translate(849.8,448.7)"><ellipse rx="6.1" ry="6.9" fill="#fff" stroke="#FF80FF" stroke-width="1.5"/><path d="M0,-6.9 A6.1,6.9 0 0 0 0,6.9 Z" fill="#FF80FF"/></g>
<g transform="translate(828.6,467)"><ellipse rx="6.1" ry="6.9" fill="#fff" stroke="#008080" stroke-width="1.5"/><path d="M0,-6.9 A6.1,6.9 0 0 0 0,6.9 Z" fill="#008080"/></g>
<line x1="852.8" y1="446.8" x2="1069.5" y2="207.8" stroke="#6B0B87" stroke-width="3.6" stroke-linecap="round"/>
<!-- Fowler-Nordheim plot, top row -->
<rect x="1352" y="108.3" width="452.3" height="366.9" rx="0" fill="none" stroke="#800080" stroke-width="2.5"/>
<line x1="1345.4" y1="108.3" x2="1352" y2="108.3" stroke="#800080" stroke-width="2.2" stroke-linecap="butt"/>
<text transform="translate(1305.82,116.5) scale(0.9484,1)" font-size="25.8" fill="#85168A">-38</text>
<line x1="1348.7" y1="144.99" x2="1352" y2="144.99" stroke="#800080" stroke-width="2.2" stroke-linecap="butt"/>
<line x1="1345.4" y1="181.68" x2="1352" y2="181.68" stroke="#800080" stroke-width="2.2" stroke-linecap="butt"/>
<text transform="translate(1305.82,189.88) scale(0.9449,1)" font-size="25.8" fill="#85168A">-40</text>
<line x1="1348.7" y1="218.37" x2="1352" y2="218.37" stroke="#800080" stroke-width="2.2" stroke-linecap="butt"/>
<line x1="1345.4" y1="255.06" x2="1352" y2="255.06" stroke="#800080" stroke-width="2.2" stroke-linecap="butt"/>
<text transform="translate(1305.82,263.26) scale(0.9519,1)" font-size="25.8" fill="#85168A">-42</text>
<line x1="1348.7" y1="291.75" x2="1352" y2="291.75" stroke="#800080" stroke-width="2.2" stroke-linecap="butt"/>
<line x1="1345.4" y1="328.44" x2="1352" y2="328.44" stroke="#800080" stroke-width="2.2" stroke-linecap="butt"/>
<text transform="translate(1305.83,336.64) scale(0.9381,1)" font-size="25.8" fill="#85168A">-44</text>
<line x1="1348.7" y1="365.13" x2="1352" y2="365.13" stroke="#800080" stroke-width="2.2" stroke-linecap="butt"/>
<line x1="1345.4" y1="401.82" x2="1352" y2="401.82" stroke="#800080" stroke-width="2.2" stroke-linecap="butt"/>
<text transform="translate(1305.82,410.02) scale(0.9484,1)" font-size="25.8" fill="#85168A">-46</text>
<line x1="1348.7" y1="438.51" x2="1352" y2="438.51" stroke="#800080" stroke-width="2.2" stroke-linecap="butt"/>
<line x1="1345.4" y1="475.2" x2="1352" y2="475.2" stroke="#800080" stroke-width="2.2" stroke-linecap="butt"/>
<text transform="translate(1305.82,483.4) scale(0.9484,1)" font-size="25.8" fill="#85168A">-48</text>
<line x1="1375.4" y1="475.2" x2="1375.4" y2="481.2" stroke="#800080" stroke-width="2.2" stroke-linecap="butt"/>
<line x1="1414.3" y1="475.2" x2="1414.3" y2="484.2" stroke="#800080" stroke-width="2.2" stroke-linecap="butt"/>
<line x1="1453.2" y1="475.2" x2="1453.2" y2="481.2" stroke="#800080" stroke-width="2.2" stroke-linecap="butt"/>
<line x1="1492.1" y1="475.2" x2="1492.1" y2="484.2" stroke="#800080" stroke-width="2.2" stroke-linecap="butt"/>
<line x1="1531" y1="475.2" x2="1531" y2="481.2" stroke="#800080" stroke-width="2.2" stroke-linecap="butt"/>
<line x1="1569.9" y1="475.2" x2="1569.9" y2="484.2" stroke="#800080" stroke-width="2.2" stroke-linecap="butt"/>
<line x1="1608.8" y1="475.2" x2="1608.8" y2="481.2" stroke="#800080" stroke-width="2.2" stroke-linecap="butt"/>
<line x1="1647.7" y1="475.2" x2="1647.7" y2="484.2" stroke="#800080" stroke-width="2.2" stroke-linecap="butt"/>
<line x1="1686.6" y1="475.2" x2="1686.6" y2="481.2" stroke="#800080" stroke-width="2.2" stroke-linecap="butt"/>
<line x1="1725.5" y1="475.2" x2="1725.5" y2="484.2" stroke="#800080" stroke-width="2.2" stroke-linecap="butt"/>
<line x1="1764.4" y1="475.2" x2="1764.4" y2="481.2" stroke="#800080" stroke-width="2.2" stroke-linecap="butt"/>
<line x1="1803.3" y1="475.2" x2="1803.3" y2="484.2" stroke="#800080" stroke-width="2.2" stroke-linecap="butt"/>
<text transform="translate(1318.61,517.1) scale(0.9500,1)" font-size="25" fill="#5A22AE">0</text>
<text transform="translate(1380.05,516.2) scale(0.9500,1)" font-size="25" fill="#5A22AE">1</text>
<text transform="translate(1462.75,513.1) scale(0.9500,1)" font-size="25" fill="#5A22AE">2</text>
<text transform="translate(1551.07,516.2) scale(0.9500,1)" font-size="25" fill="#5A22AE">3</text>
<text transform="translate(1634.07,513.1) scale(0.9500,1)" font-size="25" fill="#5A22AE">4</text>
<text transform="translate(1714.91,513.1) scale(0.9500,1)" font-size="25" fill="#5A22AE">5</text>
<text transform="translate(1793.09,513.1) scale(0.9500,1)" font-size="25" fill="#5A22AE">6</text>
<text transform="translate(1497.27,557.4) scale(0.9898,1)" font-size="39.5" fill="#7D1A8C">E<tspan dy="-19.75" font-size="24.49">-1</tspan><tspan dy="19.75"> [cm/MV]</tspan></text>
<text transform="translate(1293.4,437.78) rotate(-90) scale(1.0910,1)" font-size="33" fill="#7D1A8C">Ln(J/E<tspan dy="-14.85" font-size="20.46">2</tspan><tspan dy="14.85">) [A/MVcm]</tspan></text>
<line x1="1382.8" y1="375.2" x2="1475.7" y2="375.2" stroke="#808000" stroke-width="3.5" stroke-linecap="round"/>
<ellipse cx="1429.2" cy="375.2" rx="7.4" ry="7.4" fill="#fff"/>
<g transform="translate(1429.2,375.2)"><ellipse rx="5.2" ry="5.2" fill="#fff" stroke="#808000" stroke-width="1.5"/><path d="M0,-5.2 A5.2,5.2 0 0 0 0,5.2 Z" fill="#808000"/></g>
<text transform="translate(1483.27,389.6) scale(0.8930,1)" font-size="45.2" fill="#000">Fowler Nordheim</text>
<text transform="translate(1518.61,443.3) scale(0.8620,1)" font-size="46" fill="#000">-30 to -45 V</text>
<g transform="translate(1381.7,298.1)"><ellipse rx="5" ry="5" fill="#fff" stroke="#C0C0C0" stroke-width="1.3"/><path d="M0,-5 A5,5 0 0 0 0,5 Z" fill="#C0C0C0"/></g>
<line x1="1366.9" y1="321.1" x2="1366.9" y2="333.6" stroke="#303030" stroke-width="3.2" stroke-linecap="round"/>
<line x1="1363.8" y1="339.5" x2="1363.2" y2="343.5" stroke="#FF0000" stroke-width="3" stroke-linecap="round"/>
<line x1="1361.6" y1="355.5" x2="1360.6" y2="369" stroke="#0000FF" stroke-width="3.2" stroke-linecap="round"/>
<line x1="1358.6" y1="388" x2="1358.6" y2="426" stroke="#E0E000" stroke-width="2" stroke-linecap="butt"/>
<line x1="1356.3" y1="384" x2="1356.3" y2="456" stroke="#000080" stroke-width="3.2" stroke-linecap="round"/>
<line x1="1354" y1="390" x2="1354" y2="440" stroke="#A0A0C0" stroke-width="1" stroke-linecap="butt"/>
<line x1="1357.6" y1="445" x2="1357.6" y2="456" stroke="#404020" stroke-width="3.5" stroke-linecap="butt"/>
<line x1="1352.6" y1="449" x2="1352" y2="466" stroke="#8000FF" stroke-width="3" stroke-linecap="round"/>
<g transform="translate(1360.5,379.2)"><ellipse rx="6" ry="6" fill="#fff" stroke="#00FFFF" stroke-width="1.6"/><path d="M0,-6 A6,6 0 0 0 0,6 Z" fill="#00FFFF"/></g>
<ellipse cx="1354.8" cy="438.7" rx="5" ry="5" fill="#fff" stroke="#FF8040" stroke-width="1.5"/>
<line x1="1443.4" y1="233.9" x2="1456.5" y2="224.8" stroke="#008000" stroke-width="3" stroke-linecap="round"/>
<line x1="1471.3" y1="216.6" x2="1496.8" y2="204.2" stroke="#800000" stroke-width="3" stroke-linecap="round"/>
<line x1="1513.3" y1="197.7" x2="1566" y2="178.5" stroke="#800080" stroke-width="3.4" stroke-linecap="round"/>
<g transform="translate(1414.6,266.8)"><ellipse rx="5.6" ry="7.6" fill="#0000FF" stroke="#0000FF" stroke-width="1.2"/><line x1="0.4" y1="-4.56" x2="0.4" y2="4.56" stroke="#fff" stroke-width="1.2"/></g>
<g transform="translate(1438.9,234.7)"><ellipse rx="5.6" ry="7.6" fill="#FF8000" stroke="#FF8000" stroke-width="1.2"/><line x1="0.4" y1="-4.56" x2="0.4" y2="4.56" stroke="#fff" stroke-width="1.2"/></g>
<g transform="translate(1464.7,219)"><ellipse rx="5.6" ry="7.6" fill="#00C0C0" stroke="#00C0C0" stroke-width="1.2"/><line x1="0.4" y1="-4.56" x2="0.4" y2="4.56" stroke="#fff" stroke-width="1.2"/></g>
<g transform="translate(1508,197.7)"><ellipse rx="5.6" ry="7.6" fill="#8000FF" stroke="#8000FF" stroke-width="1.2"/><line x1="0.4" y1="-4.56" x2="0.4" y2="4.56" stroke="#fff" stroke-width="1.2"/></g>
<g transform="translate(1543.9,196)"><ellipse rx="5.6" ry="7.6" fill="#808000" stroke="#808000" stroke-width="1.2"/><line x1="0.4" y1="-4.56" x2="0.4" y2="4.56" stroke="#fff" stroke-width="1.2"/></g>
<g transform="translate(1568.3,182.8)"><ellipse rx="5.6" ry="7.6" fill="#800000" stroke="#800000" stroke-width="1.2"/><line x1="0.4" y1="-4.56" x2="0.4" y2="4.56" stroke="#fff" stroke-width="1.2"/></g>
<g transform="translate(1586.4,181.2)"><ellipse rx="5.6" ry="7.6" fill="#FFFF00" stroke="#FFFF00" stroke-width="1.2"/><line x1="0.4" y1="-4.56" x2="0.4" y2="4.56" stroke="#fff" stroke-width="1.2"/></g>
<g transform="translate(1605,178.7)"><ellipse rx="5.6" ry="7.6" fill="#000000" stroke="#000000" stroke-width="1.2"/><line x1="0.4" y1="-4.56" x2="0.4" y2="4.56" stroke="#fff" stroke-width="1.2"/></g>
<g transform="translate(1625.2,171.3)"><ellipse rx="5.6" ry="7.6" fill="#FFFF80" stroke="#FFFF80" stroke-width="1.2"/><line x1="0.4" y1="-4.56" x2="0.4" y2="4.56" stroke="#fff" stroke-width="1.2"/></g>
<g transform="translate(1647.8,166.4)"><ellipse rx="5.6" ry="7.6" fill="#0000FF" stroke="#0000FF" stroke-width="1.2"/><line x1="0.4" y1="-4.56" x2="0.4" y2="4.56" stroke="#fff" stroke-width="1.2"/></g>
<g transform="translate(1665.9,164.7)"><ellipse rx="5.6" ry="7.6" fill="#008000" stroke="#008000" stroke-width="1.2"/><line x1="0.4" y1="-4.56" x2="0.4" y2="4.56" stroke="#fff" stroke-width="1.2"/></g>
<g transform="translate(1673,160.6)"><ellipse rx="5.6" ry="7.6" fill="#800080" stroke="#800080" stroke-width="1.2"/><line x1="0.4" y1="-4.56" x2="0.4" y2="4.56" stroke="#fff" stroke-width="1.2"/></g>
<g transform="translate(1703.2,153.2)"><ellipse rx="5.6" ry="7.6" fill="#40FF40" stroke="#40FF40" stroke-width="1.2"/><line x1="0.4" y1="-4.56" x2="0.4" y2="4.56" stroke="#fff" stroke-width="1.2"/></g>
<g transform="translate(1716.9,150.8)"><ellipse rx="5.6" ry="7.6" fill="#000000" stroke="#000000" stroke-width="1.2"/><line x1="0.4" y1="-4.56" x2="0.4" y2="4.56" stroke="#fff" stroke-width="1.2"/></g>
<g transform="translate(1723,152.4)"><ellipse rx="5.6" ry="7.6" fill="#804000" stroke="#804000" stroke-width="1.2"/><line x1="0.4" y1="-4.56" x2="0.4" y2="4.56" stroke="#fff" stroke-width="1.2"/></g>
<g transform="translate(1758.9,145)"><ellipse rx="5.6" ry="7.6" fill="#800080" stroke="#800080" stroke-width="1.2"/><line x1="0.4" y1="-4.56" x2="0.4" y2="4.56" stroke="#fff" stroke-width="1.2"/></g>
<g transform="translate(1772.4,144.2)"><ellipse rx="5.6" ry="7.6" fill="#0000FF" stroke="#0000FF" stroke-width="1.2"/><line x1="0.4" y1="-4.56" x2="0.4" y2="4.56" stroke="#fff" stroke-width="1.2"/></g>
<g transform="translate(1786.8,137.6)"><ellipse rx="5.6" ry="7.6" fill="#400080" stroke="#400080" stroke-width="1.2"/><line x1="0.4" y1="-4.56" x2="0.4" y2="4.56" stroke="#fff" stroke-width="1.2"/></g>
<line x1="1590" y1="171.0" x2="1806" y2="129.5" stroke="#000080" stroke-width="1.6" stroke-dasharray="7 4"/>
<line x1="1482.7" y1="193.3" x2="1806.6" y2="131" stroke="#FF8000" stroke-width="4.2" stroke-linecap="round"/>
<!-- bottom rounded box -->
<rect x="18.5" y="643" width="1818" height="613.5" rx="100" fill="none" stroke="#0CAE50" stroke-width="2.6"/>
<!-- plot (b): J-E, S2_100 -->
<line x1="154" y1="680" x2="154" y2="1174" stroke="#800080" stroke-width="6.2" stroke-linecap="butt"/>
<line x1="150.5" y1="682.8" x2="825.2" y2="682.8" stroke="#800080" stroke-width="5.8" stroke-linecap="round"/>
<line x1="143" y1="1171" x2="827.4" y2="1171" stroke="#800080" stroke-width="6" stroke-linecap="butt"/>
<line x1="143" y1="682.8" x2="151" y2="682.8" stroke="#800080" stroke-width="4" stroke-linecap="butt"/>
<line x1="149.4" y1="731.55" x2="152" y2="731.55" stroke="#800080" stroke-width="4.2" stroke-linecap="round"/>
<line x1="149.4" y1="719.27" x2="152" y2="719.27" stroke="#800080" stroke-width="4.2" stroke-linecap="round"/>
<line x1="149.4" y1="710.55" x2="152" y2="710.55" stroke="#800080" stroke-width="4.2" stroke-linecap="round"/>
<line x1="149.4" y1="703.79" x2="152" y2="703.79" stroke="#800080" stroke-width="4.2" stroke-linecap="round"/>
<line x1="149" y1="698.27" x2="152" y2="698.27" stroke="#800080" stroke-width="4.8" stroke-linecap="round"/>
<line x1="149" y1="693.6" x2="152" y2="693.6" stroke="#800080" stroke-width="4.8" stroke-linecap="round"/>
<line x1="149" y1="689.56" x2="152" y2="689.56" stroke="#800080" stroke-width="4.8" stroke-linecap="round"/>
<line x1="149" y1="685.99" x2="152" y2="685.99" stroke="#800080" stroke-width="4.8" stroke-linecap="round"/>
<line x1="143" y1="752.54" x2="151" y2="752.54" stroke="#800080" stroke-width="4" stroke-linecap="butt"/>
<line x1="149.4" y1="801.29" x2="152" y2="801.29" stroke="#800080" stroke-width="4.2" stroke-linecap="round"/>
<line x1="149.4" y1="789.01" x2="152" y2="789.01" stroke="#800080" stroke-width="4.2" stroke-linecap="round"/>
<line x1="149.4" y1="780.3" x2="152" y2="780.3" stroke="#800080" stroke-width="4.2" stroke-linecap="round"/>
<line x1="149.4" y1="773.54" x2="152" y2="773.54" stroke="#800080" stroke-width="4.2" stroke-linecap="round"/>
<line x1="149" y1="768.02" x2="152" y2="768.02" stroke="#800080" stroke-width="4.8" stroke-linecap="round"/>
<line x1="149" y1="763.35" x2="152" y2="763.35" stroke="#800080" stroke-width="4.8" stroke-linecap="round"/>
<line x1="149" y1="759.3" x2="152" y2="759.3" stroke="#800080" stroke-width="4.8" stroke-linecap="round"/>
<line x1="149" y1="755.73" x2="152" y2="755.73" stroke="#800080" stroke-width="4.8" stroke-linecap="round"/>
<line x1="143" y1="822.29" x2="151" y2="822.29" stroke="#800080" stroke-width="4" stroke-linecap="butt"/>
<line x1="149.4" y1="871.03" x2="152" y2="871.03" stroke="#800080" stroke-width="4.2" stroke-linecap="round"/>
<line x1="149.4" y1="858.75" x2="152" y2="858.75" stroke="#800080" stroke-width="4.2" stroke-linecap="round"/>
<line x1="149.4" y1="850.04" x2="152" y2="850.04" stroke="#800080" stroke-width="4.2" stroke-linecap="round"/>
<line x1="149.4" y1="843.28" x2="152" y2="843.28" stroke="#800080" stroke-width="4.2" stroke-linecap="round"/>
<line x1="149" y1="837.76" x2="152" y2="837.76" stroke="#800080" stroke-width="4.8" stroke-linecap="round"/>
<line x1="149" y1="833.09" x2="152" y2="833.09" stroke="#800080" stroke-width="4.8" stroke-linecap="round"/>
<line x1="149" y1="829.04" x2="152" y2="829.04" stroke="#800080" stroke-width="4.8" stroke-linecap="round"/>
<line x1="149" y1="825.48" x2="152" y2="825.48" stroke="#800080" stroke-width="4.8" stroke-linecap="round"/>
<line x1="143" y1="892.03" x2="151" y2="892.03" stroke="#800080" stroke-width="4" stroke-linecap="butt"/>
<line x1="149.4" y1="940.78" x2="152" y2="940.78" stroke="#800080" stroke-width="4.2" stroke-linecap="round"/>
<line x1="149.4" y1="928.5" x2="152" y2="928.5" stroke="#800080" stroke-width="4.2" stroke-linecap="round"/>
<line x1="149.4" y1="919.78" x2="152" y2="919.78" stroke="#800080" stroke-width="4.2" stroke-linecap="round"/>
<line x1="149.4" y1="913.02" x2="152" y2="913.02" stroke="#800080" stroke-width="4.2" stroke-linecap="round"/>
<line x1="149" y1="907.5" x2="152" y2="907.5" stroke="#800080" stroke-width="4.8" stroke-linecap="round"/>
<line x1="149" y1="902.83" x2="152" y2="902.83" stroke="#800080" stroke-width="4.8" stroke-linecap="round"/>
<line x1="149" y1="898.79" x2="152" y2="898.79" stroke="#800080" stroke-width="4.8" stroke-linecap="round"/>
<line x1="149" y1="895.22" x2="152" y2="895.22" stroke="#800080" stroke-width="4.8" stroke-linecap="round"/>
<line x1="143" y1="961.77" x2="151" y2="961.77" stroke="#800080" stroke-width="4" stroke-linecap="butt"/>
<line x1="149.4" y1="1010.52" x2="152" y2="1010.52" stroke="#800080" stroke-width="4.2" stroke-linecap="round"/>
<line x1="149.4" y1="998.24" x2="152" y2="998.24" stroke="#800080" stroke-width="4.2" stroke-linecap="round"/>
<line x1="149.4" y1="989.52" x2="152" y2="989.52" stroke="#800080" stroke-width="4.2" stroke-linecap="round"/>
<line x1="149.4" y1="982.77" x2="152" y2="982.77" stroke="#800080" stroke-width="4.2" stroke-linecap="round"/>
<line x1="149" y1="977.24" x2="152" y2="977.24" stroke="#800080" stroke-width="4.8" stroke-linecap="round"/>
<line x1="149" y1="972.57" x2="152" y2="972.57" stroke="#800080" stroke-width="4.8" stroke-linecap="round"/>
<line x1="149" y1="968.53" x2="152" y2="968.53" stroke="#800080" stroke-width="4.8" stroke-linecap="round"/>
<line x1="149" y1="964.96" x2="152" y2="964.96" stroke="#800080" stroke-width="4.8" stroke-linecap="round"/>
<line x1="143" y1="1031.51" x2="151" y2="1031.51" stroke="#800080" stroke-width="4" stroke-linecap="butt"/>
<line x1="149.4" y1="1080.26" x2="152" y2="1080.26" stroke="#800080" stroke-width="4.2" stroke-linecap="round"/>
<line x1="149.4" y1="1067.98" x2="152" y2="1067.98" stroke="#800080" stroke-width="4.2" stroke-linecap="round"/>
<line x1="149.4" y1="1059.27" x2="152" y2="1059.27" stroke="#800080" stroke-width="4.2" stroke-linecap="round"/>
<line x1="149.4" y1="1052.51" x2="152" y2="1052.51" stroke="#800080" stroke-width="4.2" stroke-linecap="round"/>
<line x1="149" y1="1046.99" x2="152" y2="1046.99" stroke="#800080" stroke-width="4.8" stroke-linecap="round"/>
<line x1="149" y1="1042.32" x2="152" y2="1042.32" stroke="#800080" stroke-width="4.8" stroke-linecap="round"/>
<line x1="149" y1="1038.27" x2="152" y2="1038.27" stroke="#800080" stroke-width="4.8" stroke-linecap="round"/>
<line x1="149" y1="1034.71" x2="152" y2="1034.71" stroke="#800080" stroke-width="4.8" stroke-linecap="round"/>
<line x1="143" y1="1101.26" x2="151" y2="1101.26" stroke="#800080" stroke-width="4" stroke-linecap="butt"/>
<line x1="149.4" y1="1150.01" x2="152" y2="1150.01" stroke="#800080" stroke-width="4.2" stroke-linecap="round"/>
<line x1="149.4" y1="1137.72" x2="152" y2="1137.72" stroke="#800080" stroke-width="4.2" stroke-linecap="round"/>
<line x1="149.4" y1="1129.01" x2="152" y2="1129.01" stroke="#800080" stroke-width="4.2" stroke-linecap="round"/>
<line x1="149.4" y1="1122.25" x2="152" y2="1122.25" stroke="#800080" stroke-width="4.2" stroke-linecap="round"/>
<line x1="149" y1="1116.73" x2="152" y2="1116.73" stroke="#800080" stroke-width="4.8" stroke-linecap="round"/>
<line x1="149" y1="1112.06" x2="152" y2="1112.06" stroke="#800080" stroke-width="4.8" stroke-linecap="round"/>
<line x1="149" y1="1108.02" x2="152" y2="1108.02" stroke="#800080" stroke-width="4.8" stroke-linecap="round"/>
<line x1="149" y1="1104.45" x2="152" y2="1104.45" stroke="#800080" stroke-width="4.8" stroke-linecap="round"/>
<line x1="143" y1="1171" x2="151" y2="1171" stroke="#800080" stroke-width="4" stroke-linecap="butt"/>
<line x1="157.5" y1="1171" x2="157.5" y2="1181.6" stroke="#800080" stroke-width="5" stroke-linecap="butt"/>
<line x1="224.22" y1="1171" x2="224.22" y2="1177.7" stroke="#800080" stroke-width="4.6" stroke-linecap="butt"/>
<line x1="290.94" y1="1171" x2="290.94" y2="1181.6" stroke="#800080" stroke-width="5" stroke-linecap="butt"/>
<line x1="357.66" y1="1171" x2="357.66" y2="1177.7" stroke="#800080" stroke-width="4.6" stroke-linecap="butt"/>
<line x1="424.38" y1="1171" x2="424.38" y2="1181.6" stroke="#800080" stroke-width="5" stroke-linecap="butt"/>
<line x1="491.1" y1="1171" x2="491.1" y2="1177.7" stroke="#800080" stroke-width="4.6" stroke-linecap="butt"/>
<line x1="557.82" y1="1171" x2="557.82" y2="1181.6" stroke="#800080" stroke-width="5" stroke-linecap="butt"/>
<line x1="624.54" y1="1171" x2="624.54" y2="1177.7" stroke="#800080" stroke-width="4.6" stroke-linecap="butt"/>
<line x1="691.26" y1="1171" x2="691.26" y2="1181.6" stroke="#800080" stroke-width="5" stroke-linecap="butt"/>
<line x1="757.98" y1="1171" x2="757.98" y2="1177.7" stroke="#800080" stroke-width="4.6" stroke-linecap="butt"/>
<line x1="824.7" y1="1171" x2="824.7" y2="1181.6" stroke="#800080" stroke-width="5" stroke-linecap="butt"/>
<line x1="163.2" y1="1163.6" x2="208.2" y2="1163.6" stroke="#000080" stroke-width="5" stroke-linecap="round"/>
<line x1="213" y1="1159" x2="531" y2="1159" stroke="#8000FF" stroke-width="5.4" stroke-linecap="round"/>
<line x1="537.5" y1="1162.1" x2="770.5" y2="1162.1" stroke="#FF8000" stroke-width="5" stroke-linecap="round"/>
<text transform="translate(121.41,693.4) scale(0.7762,1)" font-size="30.8" fill="#7A0C7A">1</text>
<text transform="translate(51.36,762.14) scale(1.1105,1)" font-size="30.5" fill="#7A0C7A">100m</text>
<text transform="translate(70.36,831.89) scale(1.1098,1)" font-size="30.5" fill="#7A0C7A">10m</text>
<text transform="translate(92.87,901.63) scale(1.0177,1)" font-size="30.5" fill="#7A0C7A">1m</text>
<text transform="translate(66.53,971.37) scale(0.9928,1)" font-size="30.5" fill="#7A0C7A">100µ</text>
<text transform="translate(81.86,1041.11) scale(1.0248,1)" font-size="30.5" fill="#7A0C7A">10µ</text>
<text transform="translate(100.33,1110.86) scale(0.9915,1)" font-size="30.5" fill="#7A0C7A">1µ</text>
<text transform="translate(59.57,1180.6) scale(1.1515,1)" font-size="30.5" fill="#7A0C7A">100n</text>
<text transform="translate(148.11,1218.1) scale(1.0800,1)" font-size="32" fill="#720E6A">0</text>
<text transform="translate(269.4,1208.2) scale(1.0646,1)" font-size="32.5" fill="#720E6A">10</text>
<text transform="translate(401.3,1209.1) scale(1.1077,1)" font-size="32.5" fill="#720E6A">20</text>
<text transform="translate(535.04,1208.7) scale(1.1036,1)" font-size="32.5" fill="#720E6A">30</text>
<text transform="translate(669.19,1207.8) scale(1.0879,1)" font-size="32.5" fill="#720E6A">40</text>
<text transform="translate(804.76,1210.3) scale(1.1089,1)" font-size="32.5" fill="#720E6A">50</text>
<text transform="translate(393.93,1246.4) scale(1.1309,1)" font-size="37.3" fill="#5E1466">E (MV/cm)</text>
<text transform="translate(61.4,974.76) rotate(-90) scale(0.8839,1)" font-size="42.5" fill="#5E1466">J (A/cm<tspan dy="-20.4" font-size="25.5">2</tspan><tspan dy="20.4">)</tspan></text>
<text transform="translate(157.33,739.9) scale(1.0780,1)" font-size="53.2" fill="#000" style="font-family:'DejaVu Sans','Liberation Sans',sans-serif">(b)</text>
<text transform="translate(539.42,776.8) scale(1.0296,1)" font-size="53.5" fill="#000" font-weight="bold">S2</text>
<text transform="translate(607.5,787.8) scale(1.1121,1)" font-size="31.5" fill="#000" font-weight="bold">100</text>
<text transform="translate(697.23,776.8) scale(1.0623,1)" font-size="53.5" fill="#000" font-weight="bold">T-A</text>
<text transform="translate(557.9,825.9) scale(1.0954,1)" font-size="39" fill="#000">0 to -15 V</text>
<text transform="translate(161.16,1157.3) scale(1.2431,1)" font-size="21.5" fill="#3C5AC8">H</text>
<text transform="translate(497.2,1156.3) scale(1.13,1)" font-size="23" fill="#2A2A38">P<tspan fill="#4A64C8">F</tspan></text>
<text transform="translate(737.15,1154.4) scale(1.1915,1)" font-size="21.5" fill="#FF8C3C">FN</text>
<polyline points="170.8,888.5 170.8,905 169.95,905 169.95,930 168.67,930 168.67,960 167.13,960 167.13,990 165.59,990 165.59,1020 164.05,1020 164.05,1050 162.51,1050 162.51,1080 160.98,1080 160.98,1102 159.85,1102 159.85,1118.5 159,1118.5" fill="none" stroke="#0000FF" stroke-width="5.4" stroke-linejoin="miter" stroke-linecap="butt"/>
<rect x="174.6" y="862.3" width="6" height="6" fill="#0000FF"/>
<g transform="translate(161,1128.6)"><polygon points="0,-7.3 1.8,-2.36 7.29,-2.26 2.92,0.9 4.51,5.91 0,2.92 -4.51,5.91 -2.92,0.9 -7.29,-2.26 -1.8,-2.36" fill="#fff" stroke="#0000FF" stroke-width="1.1" stroke-linejoin="miter"/><polygon points="0,-7.3 -1.8,-2.36 -7.29,-2.26 -2.92,0.9 -4.51,5.91 0,2.92" fill="#0000FF" stroke="#0000FF" stroke-width="1.1"/></g>
<g transform="translate(184.7,854.4) rotate(-8)"><polygon points="0,-8.7 2.21,-2.82 8.94,-2.69 3.57,1.08 5.52,7.04 0,3.48 -5.52,7.04 -3.57,1.08 -8.94,-2.69 -2.21,-2.82" fill="#fff" stroke="#0000FF" stroke-width="1.2" stroke-linejoin="miter"/><polygon points="0,-8.7 -2.21,-2.82 -8.94,-2.69 -3.57,1.08 -5.52,7.04 0,3.48" fill="#0000FF" stroke="#0000FF" stroke-width="1.2"/></g>
<g transform="translate(210.1,825) rotate(-8)"><polygon points="0,-8.7 2.21,-2.82 8.94,-2.69 3.57,1.08 5.52,7.04 0,3.48 -5.52,7.04 -3.57,1.08 -8.94,-2.69 -2.21,-2.82" fill="#fff" stroke="#0000FF" stroke-width="1.2" stroke-linejoin="miter"/><polygon points="0,-8.7 -2.21,-2.82 -8.94,-2.69 -3.57,1.08 -5.52,7.04 0,3.48" fill="#0000FF" stroke="#0000FF" stroke-width="1.2"/></g>
<g transform="translate(235.2,806.2) rotate(-8)"><polygon points="0,-8.7 2.21,-2.82 8.94,-2.69 3.57,1.08 5.52,7.04 0,3.48 -5.52,7.04 -3.57,1.08 -8.94,-2.69 -2.21,-2.82" fill="#fff" stroke="#0000FF" stroke-width="1.2" stroke-linejoin="miter"/><polygon points="0,-8.7 -2.21,-2.82 -8.94,-2.69 -3.57,1.08 -5.52,7.04 0,3.48" fill="#0000FF" stroke="#0000FF" stroke-width="1.2"/></g>
<g transform="translate(261.3,791.6) rotate(-8)"><polygon points="0,-8.7 2.21,-2.82 8.94,-2.69 3.57,1.08 5.52,7.04 0,3.48 -5.52,7.04 -3.57,1.08 -8.94,-2.69 -2.21,-2.82" fill="#fff" stroke="#0000FF" stroke-width="1.2" stroke-linejoin="miter"/><polygon points="0,-8.7 -2.21,-2.82 -8.94,-2.69 -3.57,1.08 -5.52,7.04 0,3.48" fill="#0000FF" stroke="#0000FF" stroke-width="1.2"/></g>
<g transform="translate(286.5,780.3) rotate(-8)"><polygon points="0,-8.7 2.21,-2.82 8.94,-2.69 3.57,1.08 5.52,7.04 0,3.48 -5.52,7.04 -3.57,1.08 -8.94,-2.69 -2.21,-2.82" fill="#fff" stroke="#0000FF" stroke-width="1.2" stroke-linejoin="miter"/><polygon points="0,-8.7 -2.21,-2.82 -8.94,-2.69 -3.57,1.08 -5.52,7.04 0,3.48" fill="#0000FF" stroke="#0000FF" stroke-width="1.2"/></g>
<g transform="translate(312.4,770.4) rotate(-8)"><polygon points="0,-8.7 2.21,-2.82 8.94,-2.69 3.57,1.08 5.52,7.04 0,3.48 -5.52,7.04 -3.57,1.08 -8.94,-2.69 -2.21,-2.82" fill="#fff" stroke="#0000FF" stroke-width="1.2" stroke-linejoin="miter"/><polygon points="0,-8.7 -2.21,-2.82 -8.94,-2.69 -3.57,1.08 -5.52,7.04 0,3.48" fill="#0000FF" stroke="#0000FF" stroke-width="1.2"/></g>
<g transform="translate(337.8,762.4) rotate(-8)"><polygon points="0,-8.7 2.21,-2.82 8.94,-2.69 3.57,1.08 5.52,7.04 0,3.48 -5.52,7.04 -3.57,1.08 -8.94,-2.69 -2.21,-2.82" fill="#fff" stroke="#0000FF" stroke-width="1.2" stroke-linejoin="miter"/><polygon points="0,-8.7 -2.21,-2.82 -8.94,-2.69 -3.57,1.08 -5.52,7.04 0,3.48" fill="#0000FF" stroke="#0000FF" stroke-width="1.2"/></g>
<g transform="translate(363,755.1) rotate(-8)"><polygon points="0,-8.7 2.21,-2.82 8.94,-2.69 3.57,1.08 5.52,7.04 0,3.48 -5.52,7.04 -3.57,1.08 -8.94,-2.69 -2.21,-2.82" fill="#fff" stroke="#0000FF" stroke-width="1.2" stroke-linejoin="miter"/><polygon points="0,-8.7 -2.21,-2.82 -8.94,-2.69 -3.57,1.08 -5.52,7.04 0,3.48" fill="#0000FF" stroke="#0000FF" stroke-width="1.2"/></g>
<g transform="translate(388.9,748.3) rotate(-8)"><polygon points="0,-8.7 2.21,-2.82 8.94,-2.69 3.57,1.08 5.52,7.04 0,3.48 -5.52,7.04 -3.57,1.08 -8.94,-2.69 -2.21,-2.82" fill="#fff" stroke="#0000FF" stroke-width="1.2" stroke-linejoin="miter"/><polygon points="0,-8.7 -2.21,-2.82 -8.94,-2.69 -3.57,1.08 -5.52,7.04 0,3.48" fill="#0000FF" stroke="#0000FF" stroke-width="1.2"/></g>
<g transform="translate(414.3,741.8) rotate(-8)"><polygon points="0,-8.7 2.21,-2.82 8.94,-2.69 3.57,1.08 5.52,7.04 0,3.48 -5.52,7.04 -3.57,1.08 -8.94,-2.69 -2.21,-2.82" fill="#fff" stroke="#0000FF" stroke-width="1.2" stroke-linejoin="miter"/><polygon points="0,-8.7 -2.21,-2.82 -8.94,-2.69 -3.57,1.08 -5.52,7.04 0,3.48" fill="#0000FF" stroke="#0000FF" stroke-width="1.2"/></g>
<g transform="translate(440.5,737.3) rotate(-8)"><polygon points="0,-8.7 2.21,-2.82 8.94,-2.69 3.57,1.08 5.52,7.04 0,3.48 -5.52,7.04 -3.57,1.08 -8.94,-2.69 -2.21,-2.82" fill="#fff" stroke="#0000FF" stroke-width="1.2" stroke-linejoin="miter"/><polygon points="0,-8.7 -2.21,-2.82 -8.94,-2.69 -3.57,1.08 -5.52,7.04 0,3.48" fill="#0000FF" stroke="#0000FF" stroke-width="1.2"/></g>
<g transform="translate(465.3,732.9) rotate(-8)"><polygon points="0,-8.7 2.21,-2.82 8.94,-2.69 3.57,1.08 5.52,7.04 0,3.48 -5.52,7.04 -3.57,1.08 -8.94,-2.69 -2.21,-2.82" fill="#fff" stroke="#0000FF" stroke-width="1.2" stroke-linejoin="miter"/><polygon points="0,-8.7 -2.21,-2.82 -8.94,-2.69 -3.57,1.08 -5.52,7.04 0,3.48" fill="#0000FF" stroke="#0000FF" stroke-width="1.2"/></g>
<g transform="translate(490.8,729.7) rotate(-8)"><polygon points="0,-8.7 2.21,-2.82 8.94,-2.69 3.57,1.08 5.52,7.04 0,3.48 -5.52,7.04 -3.57,1.08 -8.94,-2.69 -2.21,-2.82" fill="#fff" stroke="#0000FF" stroke-width="1.2" stroke-linejoin="miter"/><polygon points="0,-8.7 -2.21,-2.82 -8.94,-2.69 -3.57,1.08 -5.52,7.04 0,3.48" fill="#0000FF" stroke="#0000FF" stroke-width="1.2"/></g>
<g transform="translate(516.7,725.6) rotate(-8)"><polygon points="0,-8.7 2.21,-2.82 8.94,-2.69 3.57,1.08 5.52,7.04 0,3.48 -5.52,7.04 -3.57,1.08 -8.94,-2.69 -2.21,-2.82" fill="#fff" stroke="#0000FF" stroke-width="1.2" stroke-linejoin="miter"/><polygon points="0,-8.7 -2.21,-2.82 -8.94,-2.69 -3.57,1.08 -5.52,7.04 0,3.48" fill="#0000FF" stroke="#0000FF" stroke-width="1.2"/></g>
<g transform="translate(542.6,722.4) rotate(-8)"><polygon points="0,-8.7 2.21,-2.82 8.94,-2.69 3.57,1.08 5.52,7.04 0,3.48 -5.52,7.04 -3.57,1.08 -8.94,-2.69 -2.21,-2.82" fill="#fff" stroke="#0000FF" stroke-width="1.2" stroke-linejoin="miter"/><polygon points="0,-8.7 -2.21,-2.82 -8.94,-2.69 -3.57,1.08 -5.52,7.04 0,3.48" fill="#0000FF" stroke="#0000FF" stroke-width="1.2"/></g>
<g transform="translate(568,719.2) rotate(-8)"><polygon points="0,-8.7 2.21,-2.82 8.94,-2.69 3.57,1.08 5.52,7.04 0,3.48 -5.52,7.04 -3.57,1.08 -8.94,-2.69 -2.21,-2.82" fill="#fff" stroke="#0000FF" stroke-width="1.2" stroke-linejoin="miter"/><polygon points="0,-8.7 -2.21,-2.82 -8.94,-2.69 -3.57,1.08 -5.52,7.04 0,3.48" fill="#0000FF" stroke="#0000FF" stroke-width="1.2"/></g>
<g transform="translate(593.9,717.8) rotate(-8)"><polygon points="0,-8.7 2.21,-2.82 8.94,-2.69 3.57,1.08 5.52,7.04 0,3.48 -5.52,7.04 -3.57,1.08 -8.94,-2.69 -2.21,-2.82" fill="#fff" stroke="#0000FF" stroke-width="1.2" stroke-linejoin="miter"/><polygon points="0,-8.7 -2.21,-2.82 -8.94,-2.69 -3.57,1.08 -5.52,7.04 0,3.48" fill="#0000FF" stroke="#0000FF" stroke-width="1.2"/></g>
<g transform="translate(619.3,714.6) rotate(-8)"><polygon points="0,-8.7 2.21,-2.82 8.94,-2.69 3.57,1.08 5.52,7.04 0,3.48 -5.52,7.04 -3.57,1.08 -8.94,-2.69 -2.21,-2.82" fill="#fff" stroke="#0000FF" stroke-width="1.2" stroke-linejoin="miter"/><polygon points="0,-8.7 -2.21,-2.82 -8.94,-2.69 -3.57,1.08 -5.52,7.04 0,3.48" fill="#0000FF" stroke="#0000FF" stroke-width="1.2"/></g>
<g transform="translate(644.4,714.6) rotate(-8)"><polygon points="0,-8.7 2.21,-2.82 8.94,-2.69 3.57,1.08 5.52,7.04 0,3.48 -5.52,7.04 -3.57,1.08 -8.94,-2.69 -2.21,-2.82" fill="#fff" stroke="#0000FF" stroke-width="1.2" stroke-linejoin="miter"/><polygon points="0,-8.7 -2.21,-2.82 -8.94,-2.69 -3.57,1.08 -5.52,7.04 0,3.48" fill="#0000FF" stroke="#0000FF" stroke-width="1.2"/></g>
<g transform="translate(669.9,715.7) rotate(-8)"><polygon points="0,-8.7 2.21,-2.82 8.94,-2.69 3.57,1.08 5.52,7.04 0,3.48 -5.52,7.04 -3.57,1.08 -8.94,-2.69 -2.21,-2.82" fill="#fff" stroke="#0000FF" stroke-width="1.2" stroke-linejoin="miter"/><polygon points="0,-8.7 -2.21,-2.82 -8.94,-2.69 -3.57,1.08 -5.52,7.04 0,3.48" fill="#0000FF" stroke="#0000FF" stroke-width="1.2"/></g>
<g transform="translate(695.3,715.1) rotate(-8)"><polygon points="0,-8.7 2.21,-2.82 8.94,-2.69 3.57,1.08 5.52,7.04 0,3.48 -5.52,7.04 -3.57,1.08 -8.94,-2.69 -2.21,-2.82" fill="#fff" stroke="#0000FF" stroke-width="1.2" stroke-linejoin="miter"/><polygon points="0,-8.7 -2.21,-2.82 -8.94,-2.69 -3.57,1.08 -5.52,7.04 0,3.48" fill="#0000FF" stroke="#0000FF" stroke-width="1.2"/></g>
<g transform="translate(720.9,714.6) rotate(-8)"><polygon points="0,-8.7 2.21,-2.82 8.94,-2.69 3.57,1.08 5.52,7.04 0,3.48 -5.52,7.04 -3.57,1.08 -8.94,-2.69 -2.21,-2.82" fill="#fff" stroke="#0000FF" stroke-width="1.2" stroke-linejoin="miter"/><polygon points="0,-8.7 -2.21,-2.82 -8.94,-2.69 -3.57,1.08 -5.52,7.04 0,3.48" fill="#0000FF" stroke="#0000FF" stroke-width="1.2"/></g>
<g transform="translate(746.3,713.5) rotate(-8)"><polygon points="0,-8.7 2.21,-2.82 8.94,-2.69 3.57,1.08 5.52,7.04 0,3.48 -5.52,7.04 -3.57,1.08 -8.94,-2.69 -2.21,-2.82" fill="#fff" stroke="#0000FF" stroke-width="1.2" stroke-linejoin="miter"/><polygon points="0,-8.7 -2.21,-2.82 -8.94,-2.69 -3.57,1.08 -5.52,7.04 0,3.48" fill="#0000FF" stroke="#0000FF" stroke-width="1.2"/></g>
<g transform="translate(771.9,713) rotate(-8)"><polygon points="0,-8.7 2.21,-2.82 8.94,-2.69 3.57,1.08 5.52,7.04 0,3.48 -5.52,7.04 -3.57,1.08 -8.94,-2.69 -2.21,-2.82" fill="#fff" stroke="#0000FF" stroke-width="1.2" stroke-linejoin="miter"/><polygon points="0,-8.7 -2.21,-2.82 -8.94,-2.69 -3.57,1.08 -5.52,7.04 0,3.48" fill="#0000FF" stroke="#0000FF" stroke-width="1.2"/></g>
<!-- inset of (b): hopping fit -->
<rect x="271.6" y="833.8" width="367.1" height="242" rx="0" fill="#fff" stroke="#820A82" stroke-width="2.9"/>
<line x1="271.6" y1="1075.8" x2="271.6" y2="1081" stroke="#820A82" stroke-width="2" stroke-linecap="butt"/>
<line x1="308.31" y1="1075.8" x2="308.31" y2="1079" stroke="#820A82" stroke-width="2" stroke-linecap="butt"/>
<line x1="345.02" y1="1075.8" x2="345.02" y2="1081" stroke="#820A82" stroke-width="2" stroke-linecap="butt"/>
<line x1="381.73" y1="1075.8" x2="381.73" y2="1079" stroke="#820A82" stroke-width="2" stroke-linecap="butt"/>
<line x1="418.44" y1="1075.8" x2="418.44" y2="1081" stroke="#820A82" stroke-width="2" stroke-linecap="butt"/>
<line x1="455.15" y1="1075.8" x2="455.15" y2="1079" stroke="#820A82" stroke-width="2" stroke-linecap="butt"/>
<line x1="491.86" y1="1075.8" x2="491.86" y2="1081" stroke="#820A82" stroke-width="2" stroke-linecap="butt"/>
<line x1="528.57" y1="1075.8" x2="528.57" y2="1079" stroke="#820A82" stroke-width="2" stroke-linecap="butt"/>
<line x1="565.28" y1="1075.8" x2="565.28" y2="1081" stroke="#820A82" stroke-width="2" stroke-linecap="butt"/>
<line x1="601.99" y1="1075.8" x2="601.99" y2="1079" stroke="#820A82" stroke-width="2" stroke-linecap="butt"/>
<line x1="638.7" y1="1075.8" x2="638.7" y2="1081" stroke="#820A82" stroke-width="2" stroke-linecap="butt"/>
<line x1="265.6" y1="1075.3" x2="271.6" y2="1075.3" stroke="#820A82" stroke-width="2" stroke-linecap="butt"/>
<line x1="268.6" y1="1048.4" x2="271.6" y2="1048.4" stroke="#820A82" stroke-width="2" stroke-linecap="butt"/>
<line x1="265.6" y1="1021.5" x2="271.6" y2="1021.5" stroke="#820A82" stroke-width="2" stroke-linecap="butt"/>
<line x1="268.6" y1="994.6" x2="271.6" y2="994.6" stroke="#820A82" stroke-width="2" stroke-linecap="butt"/>
<line x1="265.6" y1="967.7" x2="271.6" y2="967.7" stroke="#820A82" stroke-width="2" stroke-linecap="butt"/>
<line x1="268.6" y1="940.8" x2="271.6" y2="940.8" stroke="#820A82" stroke-width="2" stroke-linecap="butt"/>
<line x1="265.6" y1="913.9" x2="271.6" y2="913.9" stroke="#820A82" stroke-width="2" stroke-linecap="butt"/>
<line x1="268.6" y1="887" x2="271.6" y2="887" stroke="#820A82" stroke-width="2" stroke-linecap="butt"/>
<line x1="265.6" y1="860.1" x2="271.6" y2="860.1" stroke="#820A82" stroke-width="2" stroke-linecap="butt"/>
<text transform="translate(210.07,865.7) scale(1.2713,1)" font-size="17" fill="#A848A8">400m</text>
<text transform="translate(209.74,919.5) scale(1.2792,1)" font-size="17" fill="#A848A8">300m</text>
<text transform="translate(209.41,973.3) scale(1.2872,1)" font-size="17" fill="#A848A8">200m</text>
<text transform="translate(210.29,1027.1) scale(1.2660,1)" font-size="17" fill="#A848A8">100m</text>
<text transform="translate(250.64,1080.1) scale(1.1158,1)" font-size="17" fill="#A848A8">0</text>
<text transform="translate(264.91,1098) scale(1.0500,1)" font-size="18.5" fill="#7038AA">0</text>
<text transform="translate(338.83,1099.2) scale(1.0500,1)" font-size="18.5" fill="#7038AA">10</text>
<text transform="translate(408.57,1097.2) scale(1.0500,1)" font-size="18.5" fill="#7038AA">20</text>
<text transform="translate(479.42,1097.7) scale(1.0500,1)" font-size="18.5" fill="#7038AA">30</text>
<text transform="translate(553.56,1096) scale(1.0500,1)" font-size="18.5" fill="#7038AA">40</text>
<text transform="translate(627.87,1097.2) scale(1.0500,1)" font-size="18.5" fill="#7038AA">50</text>
<text transform="translate(407.57,1119.6) scale(1.2381,1)" font-size="19.5" fill="#9838A0">E [MV/cm]</text>
<text transform="translate(202.8,1008.41) rotate(-90) scale(0.9334,1)" font-size="21.5" fill="#A848A8">Ln J [A/cm<tspan dy="-9.03" font-size="12.9">2</tspan><tspan dy="9.03">]</tspan></text>
<line x1="283.3" y1="867.1" x2="344.3" y2="867.1" stroke="#303030" stroke-width="1.2" stroke-linecap="butt"/>
<ellipse cx="314.2" cy="867.1" rx="6.3" ry="5.7" fill="#fff"/>
<g transform="translate(314.2,867.1)"><ellipse rx="4.8" ry="4.2" fill="#fff" stroke="#808000" stroke-width="1.4"/><path d="M0,-4.2 A4.8,4.2 0 0 0 0,4.2 Z" fill="#808000"/></g>
<text transform="translate(349.61,873.9) scale(1.2187,1)" font-size="22.5" fill="#1A1A1A">Hopping</text>
<text transform="translate(320.61,901.5) scale(1.2056,1)" font-size="22.5" fill="#1A1A1A">-1 to -3 V</text>
<g transform="translate(276,1074.5)"><ellipse rx="4.4" ry="3.6" fill="#fff" stroke="#00FFFF" stroke-width="1.3"/><path d="M0,-3.6 A4.4,3.6 0 0 0 0,3.6 Z" fill="#00FFFF"/></g>
<g transform="translate(279.5,1074)"><ellipse rx="4.4" ry="3.6" fill="#fff" stroke="#FF00FF" stroke-width="1.3"/><path d="M0,-3.6 A4.4,3.6 0 0 0 0,3.6 Z" fill="#FF00FF"/></g>
<g transform="translate(283,1073.5)"><ellipse rx="4.4" ry="3.6" fill="#fff" stroke="#808000" stroke-width="1.3"/><path d="M0,-3.6 A4.4,3.6 0 0 0 0,3.6 Z" fill="#808000"/></g>
<g transform="translate(286,1073.2)"><ellipse rx="4.4" ry="3.6" fill="#fff" stroke="#000080" stroke-width="1.3"/><path d="M0,-3.6 A4.4,3.6 0 0 0 0,3.6 Z" fill="#000080"/></g>
<g transform="translate(277.82,1073.76)"><ellipse rx="5.5" ry="4.3" fill="#fff" stroke="#800080" stroke-width="1.4"/><path d="M0,-4.3 A5.5,4.3 0 0 0 0,4.3 Z" fill="#800080"/></g>
<g transform="translate(284.09,1072.76)"><ellipse rx="5.5" ry="4.3" fill="#fff" stroke="#800000" stroke-width="1.4"/><path d="M0,-4.3 A5.5,4.3 0 0 0 0,4.3 Z" fill="#800000"/></g>
<g transform="translate(291.61,1071.25)"><ellipse rx="5.5" ry="4.3" fill="#fff" stroke="#008000" stroke-width="1.4"/><path d="M0,-4.3 A5.5,4.3 0 0 0 0,4.3 Z" fill="#008000"/></g>
<g transform="translate(299.14,1070.25)"><ellipse rx="5.5" ry="4.3" fill="#fff" stroke="#008080" stroke-width="1.4"/><path d="M0,-4.3 A5.5,4.3 0 0 0 0,4.3 Z" fill="#008080"/></g>
<g transform="translate(306.66,1068.75)"><ellipse rx="5.5" ry="4.3" fill="#fff" stroke="#0000A0" stroke-width="1.4"/><path d="M0,-4.3 A5.5,4.3 0 0 0 0,4.3 Z" fill="#0000A0"/></g>
<g transform="translate(314.18,1066.99)"><ellipse rx="5.5" ry="4.3" fill="#fff" stroke="#FF8000" stroke-width="1.4"/><path d="M0,-4.3 A5.5,4.3 0 0 0 0,4.3 Z" fill="#FF8000"/></g>
<g transform="translate(320.45,1063.73)"><ellipse rx="5.5" ry="4.3" fill="#fff" stroke="#8000FF" stroke-width="1.4"/><path d="M0,-4.3 A5.5,4.3 0 0 0 0,4.3 Z" fill="#8000FF"/></g>
<g transform="translate(326.72,1060.22)"><ellipse rx="5.5" ry="4.3" fill="#fff" stroke="#FF0080" stroke-width="1.4"/><path d="M0,-4.3 A5.5,4.3 0 0 0 0,4.3 Z" fill="#FF0080"/></g>
<g transform="translate(340.51,1052.7)"><ellipse rx="5.5" ry="4.3" fill="#fff" stroke="#C0C0C0" stroke-width="1.4"/><path d="M0,-4.3 A5.5,4.3 0 0 0 0,4.3 Z" fill="#C0C0C0"/></g>
<g transform="translate(348.54,1049.44)"><ellipse rx="5.5" ry="4.3" fill="#fff" stroke="#808080" stroke-width="1.4"/><path d="M0,-4.3 A5.5,4.3 0 0 0 0,4.3 Z" fill="#808080"/></g>
<g transform="translate(355.06,1045.68)"><ellipse rx="5.5" ry="4.3" fill="#fff" stroke="#FFFF80" stroke-width="1.4"/><path d="M0,-4.3 A5.5,4.3 0 0 0 0,4.3 Z" fill="#FFFF80"/></g>
<g transform="translate(362.58,1041.16)"><ellipse rx="5.5" ry="4.3" fill="#fff" stroke="#80FFFF" stroke-width="1.4"/><path d="M0,-4.3 A5.5,4.3 0 0 0 0,4.3 Z" fill="#80FFFF"/></g>
<g transform="translate(369.85,1035.65)"><ellipse rx="5.5" ry="4.3" fill="#fff" stroke="#FF80FF" stroke-width="1.4"/><path d="M0,-4.3 A5.5,4.3 0 0 0 0,4.3 Z" fill="#FF80FF"/></g>
<g transform="translate(376.87,1030.63)"><ellipse rx="5.5" ry="4.3" fill="#fff" stroke="#404040" stroke-width="1.4"/><path d="M0,-4.3 A5.5,4.3 0 0 0 0,4.3 Z" fill="#404040"/></g>
<g transform="translate(383.89,1024.86)"><ellipse rx="5.5" ry="4.3" fill="#fff" stroke="#000000" stroke-width="1.4"/><path d="M0,-4.3 A5.5,4.3 0 0 0 0,4.3 Z" fill="#000000"/></g>
<g transform="translate(390.66,1018.6)"><ellipse rx="5.5" ry="4.3" fill="#fff" stroke="#FF0000" stroke-width="1.4"/><path d="M0,-4.3 A5.5,4.3 0 0 0 0,4.3 Z" fill="#FF0000"/></g>
<g transform="translate(398.18,1012.33)"><ellipse rx="5.5" ry="4.3" fill="#fff" stroke="#00FF00" stroke-width="1.4"/><path d="M0,-4.3 A5.5,4.3 0 0 0 0,4.3 Z" fill="#00FF00"/></g>
<g transform="translate(405.21,1004.8)"><ellipse rx="5.5" ry="4.3" fill="#fff" stroke="#0000FF" stroke-width="1.4"/><path d="M0,-4.3 A5.5,4.3 0 0 0 0,4.3 Z" fill="#0000FF"/></g>
<g transform="translate(413.01,998.03)"><ellipse rx="5.5" ry="4.3" fill="#fff" stroke="#00FFFF" stroke-width="1.4"/><path d="M0,-4.3 A5.5,4.3 0 0 0 0,4.3 Z" fill="#00FFFF"/></g>
<g transform="translate(420.03,990.01)"><ellipse rx="5.5" ry="4.3" fill="#fff" stroke="#FF00FF" stroke-width="1.4"/><path d="M0,-4.3 A5.5,4.3 0 0 0 0,4.3 Z" fill="#FF00FF"/></g>
<g transform="translate(426.3,982.99)"><ellipse rx="5.5" ry="4.3" fill="#fff" stroke="#FFFF00" stroke-width="1.4"/><path d="M0,-4.3 A5.5,4.3 0 0 0 0,4.3 Z" fill="#FFFF00"/></g>
<g transform="translate(433.82,975.97)"><ellipse rx="5.5" ry="4.3" fill="#fff" stroke="#808000" stroke-width="1.4"/><path d="M0,-4.3 A5.5,4.3 0 0 0 0,4.3 Z" fill="#808000"/></g>
<g transform="translate(441.34,969.7)"><ellipse rx="5.5" ry="4.3" fill="#fff" stroke="#000080" stroke-width="1.4"/><path d="M0,-4.3 A5.5,4.3 0 0 0 0,4.3 Z" fill="#000080"/></g>
<g transform="translate(447.61,958.67)"><ellipse rx="5.5" ry="4.3" fill="#fff" stroke="#800080" stroke-width="1.4"/><path d="M0,-4.3 A5.5,4.3 0 0 0 0,4.3 Z" fill="#800080"/></g>
<g transform="translate(455.14,955.41)"><ellipse rx="5.5" ry="4.3" fill="#fff" stroke="#800000" stroke-width="1.4"/><path d="M0,-4.3 A5.5,4.3 0 0 0 0,4.3 Z" fill="#800000"/></g>
<g transform="translate(461.4,948.39)"><ellipse rx="5.5" ry="4.3" fill="#fff" stroke="#008000" stroke-width="1.4"/><path d="M0,-4.3 A5.5,4.3 0 0 0 0,4.3 Z" fill="#008000"/></g>
<g transform="translate(468.93,940.36)"><ellipse rx="5.5" ry="4.3" fill="#fff" stroke="#008080" stroke-width="1.4"/><path d="M0,-4.3 A5.5,4.3 0 0 0 0,4.3 Z" fill="#008080"/></g>
<g transform="translate(475.95,933.34)"><ellipse rx="5.5" ry="4.3" fill="#fff" stroke="#0000A0" stroke-width="1.4"/><path d="M0,-4.3 A5.5,4.3 0 0 0 0,4.3 Z" fill="#0000A0"/></g>
<g transform="translate(482.72,925.82)"><ellipse rx="5.5" ry="4.3" fill="#fff" stroke="#FF8000" stroke-width="1.4"/><path d="M0,-4.3 A5.5,4.3 0 0 0 0,4.3 Z" fill="#FF8000"/></g>
<g transform="translate(489.74,919.55)"><ellipse rx="5.5" ry="4.3" fill="#fff" stroke="#8000FF" stroke-width="1.4"/><path d="M0,-4.3 A5.5,4.3 0 0 0 0,4.3 Z" fill="#8000FF"/></g>
<g transform="translate(497.01,910.27)"><ellipse rx="5.5" ry="4.3" fill="#fff" stroke="#FF0080" stroke-width="1.4"/><path d="M0,-4.3 A5.5,4.3 0 0 0 0,4.3 Z" fill="#FF0080"/></g>
<g transform="translate(510.8,896.98)"><ellipse rx="5.5" ry="4.3" fill="#fff" stroke="#C0C0C0" stroke-width="1.4"/><path d="M0,-4.3 A5.5,4.3 0 0 0 0,4.3 Z" fill="#C0C0C0"/></g>
<g transform="translate(517.32,883.94)"><ellipse rx="5.5" ry="4.3" fill="#fff" stroke="#808080" stroke-width="1.4"/><path d="M0,-4.3 A5.5,4.3 0 0 0 0,4.3 Z" fill="#808080"/></g>
<g transform="translate(524.59,883.19)"><ellipse rx="5.5" ry="4.3" fill="#fff" stroke="#FFFF80" stroke-width="1.4"/><path d="M0,-4.3 A5.5,4.3 0 0 0 0,4.3 Z" fill="#FFFF80"/></g>
<g transform="translate(531.36,886.95)"><ellipse rx="5.5" ry="4.3" fill="#fff" stroke="#80FFFF" stroke-width="1.4"/><path d="M0,-4.3 A5.5,4.3 0 0 0 0,4.3 Z" fill="#80FFFF"/></g>
<g transform="translate(538.64,885.2)"><ellipse rx="5.5" ry="4.3" fill="#fff" stroke="#FF80FF" stroke-width="1.4"/><path d="M0,-4.3 A5.5,4.3 0 0 0 0,4.3 Z" fill="#FF80FF"/></g>
<g transform="translate(545.41,880.18)"><ellipse rx="5.5" ry="4.3" fill="#fff" stroke="#404040" stroke-width="1.4"/><path d="M0,-4.3 A5.5,4.3 0 0 0 0,4.3 Z" fill="#404040"/></g>
<g transform="translate(552.18,887.7)"><ellipse rx="5.5" ry="4.3" fill="#fff" stroke="#000000" stroke-width="1.4"/><path d="M0,-4.3 A5.5,4.3 0 0 0 0,4.3 Z" fill="#000000"/></g>
<g transform="translate(559.7,888.96)"><ellipse rx="5.5" ry="4.3" fill="#fff" stroke="#FF0000" stroke-width="1.4"/><path d="M0,-4.3 A5.5,4.3 0 0 0 0,4.3 Z" fill="#FF0000"/></g>
<g transform="translate(566.72,888.46)"><ellipse rx="5.5" ry="4.3" fill="#fff" stroke="#00FF00" stroke-width="1.4"/><path d="M0,-4.3 A5.5,4.3 0 0 0 0,4.3 Z" fill="#00FF00"/></g>
<g transform="translate(573.49,882.69)"><ellipse rx="5.5" ry="4.3" fill="#fff" stroke="#0000FF" stroke-width="1.4"/><path d="M0,-4.3 A5.5,4.3 0 0 0 0,4.3 Z" fill="#0000FF"/></g>
<g transform="translate(580.51,885.7)"><ellipse rx="5.5" ry="4.3" fill="#fff" stroke="#00FFFF" stroke-width="1.4"/><path d="M0,-4.3 A5.5,4.3 0 0 0 0,4.3 Z" fill="#00FFFF"/></g>
<g transform="translate(588.03,884.44)"><ellipse rx="5.5" ry="4.3" fill="#fff" stroke="#FF00FF" stroke-width="1.4"/><path d="M0,-4.3 A5.5,4.3 0 0 0 0,4.3 Z" fill="#FF00FF"/></g>
<g transform="translate(595.06,875.67)"><ellipse rx="5.5" ry="4.3" fill="#fff" stroke="#FFFF00" stroke-width="1.4"/><path d="M0,-4.3 A5.5,4.3 0 0 0 0,4.3 Z" fill="#FFFF00"/></g>
<g transform="translate(602.33,882.19)"><ellipse rx="5.5" ry="4.3" fill="#fff" stroke="#808000" stroke-width="1.4"/><path d="M0,-4.3 A5.5,4.3 0 0 0 0,4.3 Z" fill="#808000"/></g>
<g transform="translate(608.85,872.66)"><ellipse rx="5.5" ry="4.3" fill="#fff" stroke="#000080" stroke-width="1.4"/><path d="M0,-4.3 A5.5,4.3 0 0 0 0,4.3 Z" fill="#000080"/></g>
<g transform="translate(616.87,876.42)"><ellipse rx="5.5" ry="4.3" fill="#fff" stroke="#800080" stroke-width="1.4"/><path d="M0,-4.3 A5.5,4.3 0 0 0 0,4.3 Z" fill="#800080"/></g>
<line x1="262.8" y1="1082.8" x2="351.8" y2="1055.7" stroke="#0000C0" stroke-width="2.2" stroke-linecap="round"/>
<!-- Poole-Frenkel plot, bottom row -->
<rect x="879" y="762" width="390.6" height="301" rx="0" fill="none" stroke="#800080" stroke-width="2.5"/>
<line x1="874.6" y1="762" x2="879" y2="762" stroke="#800080" stroke-width="2" stroke-linecap="butt"/>
<text transform="translate(838.02,769.2) scale(1.0501,1)" font-size="21" fill="#9B34A4">-18</text>
<line x1="876.8" y1="792.05" x2="879" y2="792.05" stroke="#800080" stroke-width="2" stroke-linecap="butt"/>
<line x1="874.6" y1="822.1" x2="879" y2="822.1" stroke="#800080" stroke-width="2" stroke-linecap="butt"/>
<text transform="translate(838.01,829.3) scale(1.0539,1)" font-size="21" fill="#9B34A4">-19</text>
<line x1="876.8" y1="852.15" x2="879" y2="852.15" stroke="#800080" stroke-width="2" stroke-linecap="butt"/>
<line x1="874.6" y1="882.2" x2="879" y2="882.2" stroke="#800080" stroke-width="2" stroke-linecap="butt"/>
<text transform="translate(838.02,889.4) scale(1.0462,1)" font-size="21" fill="#9B34A4">-20</text>
<line x1="876.8" y1="912.25" x2="879" y2="912.25" stroke="#800080" stroke-width="2" stroke-linecap="butt"/>
<line x1="874.6" y1="942.3" x2="879" y2="942.3" stroke="#800080" stroke-width="2" stroke-linecap="butt"/>
<text transform="translate(838.01,949.5) scale(1.0539,1)" font-size="21" fill="#9B34A4">-21</text>
<line x1="876.8" y1="972.35" x2="879" y2="972.35" stroke="#800080" stroke-width="2" stroke-linecap="butt"/>
<line x1="874.6" y1="1002.4" x2="879" y2="1002.4" stroke="#800080" stroke-width="2" stroke-linecap="butt"/>
<text transform="translate(838.01,1009.6) scale(1.0539,1)" font-size="21" fill="#9B34A4">-22</text>
<line x1="876.8" y1="1032.45" x2="879" y2="1032.45" stroke="#800080" stroke-width="2" stroke-linecap="butt"/>
<line x1="874.6" y1="1062.5" x2="879" y2="1062.5" stroke="#800080" stroke-width="2" stroke-linecap="butt"/>
<text transform="translate(838.02,1069.7) scale(1.0501,1)" font-size="21" fill="#9B34A4">-23</text>
<line x1="879" y1="1063" x2="879" y2="1070.2" stroke="#800080" stroke-width="2.2" stroke-linecap="butt"/>
<line x1="1019.2" y1="1063" x2="1019.2" y2="1070.2" stroke="#800080" stroke-width="2.2" stroke-linecap="butt"/>
<line x1="1157.2" y1="1063" x2="1157.2" y2="1070.2" stroke="#800080" stroke-width="2.2" stroke-linecap="butt"/>
<text transform="translate(876.46,1096.1)" font-size="22.5" fill="#4E1090">0</text>
<text transform="translate(984.52,1094)" font-size="22.5" fill="#4E1090">15</text>
<text transform="translate(1109.01,1092.6)" font-size="22.5" fill="#4E1090">30</text>
<text transform="translate(1233.54,1093.4)" font-size="22.5" fill="#4E1090">45</text>
<text transform="translate(1009.77,1123.1) scale(0.9891,1)" font-size="29.5" fill="#7D1A8C">E<tspan dy="-14.75" font-size="18.29">1/2</tspan><tspan dy="14.75"> [MV/cm]</tspan><tspan dy="-14.75" font-size="18.29">1/2</tspan></text>
<text transform="translate(825.8,1017.45) rotate(-90) scale(0.9957,1)" font-size="29.5" fill="#7D1A8C">Ln(J/E) [A/cm*V]</text>
<line x1="959.1" y1="956.6" x2="1032.5" y2="956.6" stroke="#FF4040" stroke-width="1.2" stroke-linecap="butt"/>
<ellipse cx="995.4" cy="956.6" rx="7.4" ry="6.8" fill="#fff"/>
<g transform="translate(995.4,956.6)"><ellipse rx="5.6" ry="5" fill="#fff" stroke="#000080" stroke-width="1.4"/><path d="M0,-5 A5.6,5 0 0 0 0,5 Z" fill="#000080"/></g>
<text transform="translate(1040.43,967.8) scale(0.9676,1)" font-size="34.5" fill="#111">Poole Frenkel</text>
<text transform="translate(1049.27,1009.2) scale(0.9522,1)" font-size="35" fill="#111">-3 to -11 V</text>
<g transform="translate(892.5,1047.7)"><ellipse rx="5.6" ry="5.2" fill="#0000FF" stroke="#0000FF" stroke-width="1.3"/><line x1="0.4" y1="-3.12" x2="0.4" y2="3.12" stroke="#fff" stroke-width="1.2"/></g>
<g transform="translate(893.9,1032)"><ellipse rx="5.6" ry="5.2" fill="#808000" stroke="#808000" stroke-width="1.3"/><line x1="0.4" y1="-3.12" x2="0.4" y2="3.12" stroke="#fff" stroke-width="1.2"/></g>
<g transform="translate(897.4,1020.2)"><ellipse rx="5.6" ry="5.2" fill="#800080" stroke="#800080" stroke-width="1.3"/><line x1="0.4" y1="-3.12" x2="0.4" y2="3.12" stroke="#fff" stroke-width="1.2"/></g>
<g transform="translate(902.1,994.3)"><ellipse rx="5.6" ry="5.2" fill="#00FF00" stroke="#00FF00" stroke-width="1.3"/><line x1="0.4" y1="-3.12" x2="0.4" y2="3.12" stroke="#fff" stroke-width="1.2"/></g>
<g transform="translate(906.5,984.6)"><ellipse rx="5.6" ry="5.2" fill="#008080" stroke="#008080" stroke-width="1.3"/><line x1="0.4" y1="-3.12" x2="0.4" y2="3.12" stroke="#fff" stroke-width="1.2"/></g>
<g transform="translate(909.2,977.5)"><ellipse rx="5.6" ry="5.2" fill="#FF8000" stroke="#FF8000" stroke-width="1.3"/><line x1="0.4" y1="-3.12" x2="0.4" y2="3.12" stroke="#fff" stroke-width="1.2"/></g>
<g transform="translate(913.3,972.2)"><ellipse rx="5.6" ry="5.2" fill="#FF0080" stroke="#FF0080" stroke-width="1.3"/><line x1="0.4" y1="-3.12" x2="0.4" y2="3.12" stroke="#fff" stroke-width="1.2"/></g>
<g transform="translate(921.8,932.7)"><ellipse rx="5.6" ry="5.2" fill="#804000" stroke="#804000" stroke-width="1.3"/><line x1="0.4" y1="-3.12" x2="0.4" y2="3.12" stroke="#fff" stroke-width="1.2"/></g>
<g transform="translate(928.1,919.5)"><ellipse rx="5.6" ry="5.2" fill="#400080" stroke="#400080" stroke-width="1.3"/><line x1="0.4" y1="-3.12" x2="0.4" y2="3.12" stroke="#fff" stroke-width="1.2"/></g>
<g transform="translate(935.1,901.1)"><ellipse rx="5.6" ry="5.2" fill="#FF8000" stroke="#FF8000" stroke-width="1.3"/><line x1="0.4" y1="-3.12" x2="0.4" y2="3.12" stroke="#fff" stroke-width="1.2"/></g>
<g transform="translate(959.5,889.5)"><ellipse rx="5.6" ry="5.2" fill="#00FFFF" stroke="#00FFFF" stroke-width="1.3"/><line x1="0.4" y1="-3.12" x2="0.4" y2="3.12" stroke="#fff" stroke-width="1.2"/></g>
<g transform="translate(988.7,872)"><ellipse rx="5.6" ry="5.2" fill="#000000" stroke="#000000" stroke-width="1.3"/><line x1="0.4" y1="-3.12" x2="0.4" y2="3.12" stroke="#fff" stroke-width="1.2"/></g>
<g transform="translate(1007.4,860.4)"><ellipse rx="5.6" ry="5.2" fill="#C00000" stroke="#C00000" stroke-width="1.3"/><line x1="0.4" y1="-3.12" x2="0.4" y2="3.12" stroke="#fff" stroke-width="1.2"/></g>
<g transform="translate(1028.8,852.2)"><ellipse rx="5.6" ry="5.2" fill="#800080" stroke="#800080" stroke-width="1.3"/><line x1="0.4" y1="-3.12" x2="0.4" y2="3.12" stroke="#fff" stroke-width="1.2"/></g>
<g transform="translate(1052.2,837)"><ellipse rx="5.6" ry="5.2" fill="#fff" stroke="#FF00FF" stroke-width="1.3"/><path d="M0,-5.2 A5.6,5.2 0 0 0 0,5.2 Z" fill="#FF00FF"/></g>
<g transform="translate(1076.1,831.9)"><ellipse rx="5.6" ry="5.2" fill="#00FF00" stroke="#00FF00" stroke-width="1.3"/><line x1="0.4" y1="-3.12" x2="0.4" y2="3.12" stroke="#fff" stroke-width="1.2"/></g>
<g transform="translate(1098.1,815.6)"><ellipse rx="5.6" ry="5.2" fill="#0000FF" stroke="#0000FF" stroke-width="1.3"/><line x1="0.4" y1="-3.12" x2="0.4" y2="3.12" stroke="#fff" stroke-width="1.2"/></g>
<g transform="translate(1123.9,804)"><ellipse rx="5.6" ry="5.2" fill="#fff" stroke="#FF00FF" stroke-width="1.3"/><path d="M0,-5.2 A5.6,5.2 0 0 0 0,5.2 Z" fill="#FF00FF"/></g>
<g transform="translate(1143.9,798.9)"><ellipse rx="5.6" ry="5.2" fill="#804000" stroke="#804000" stroke-width="1.3"/><line x1="0.4" y1="-3.12" x2="0.4" y2="3.12" stroke="#fff" stroke-width="1.2"/></g>
<g transform="translate(1165.7,795.6)"><ellipse rx="5.6" ry="5.2" fill="#00FF00" stroke="#00FF00" stroke-width="1.3"/><line x1="0.4" y1="-3.12" x2="0.4" y2="3.12" stroke="#fff" stroke-width="1.2"/></g>
<g transform="translate(1179.2,789.5)"><ellipse rx="5.6" ry="5.2" fill="#fff" stroke="#8000FF" stroke-width="1.3"/><path d="M0,-5.2 A5.6,5.2 0 0 0 0,5.2 Z" fill="#8000FF"/></g>
<g transform="translate(1206.5,790.1)"><ellipse rx="5.6" ry="5.2" fill="#C0C0C0" stroke="#C0C0C0" stroke-width="1.3"/><line x1="0.4" y1="-3.12" x2="0.4" y2="3.12" stroke="#fff" stroke-width="1.2"/></g>
<g transform="translate(1224.8,793.6)"><ellipse rx="5.6" ry="5.2" fill="#fff" stroke="#FF0000" stroke-width="1.3"/><path d="M0,-5.2 A5.6,5.2 0 0 0 0,5.2 Z" fill="#FF0000"/></g>
<g transform="translate(1244.8,800.3)"><ellipse rx="5.6" ry="5.2" fill="#804000" stroke="#804000" stroke-width="1.3"/><line x1="0.4" y1="-3.12" x2="0.4" y2="3.12" stroke="#fff" stroke-width="1.2"/></g>
<g transform="translate(1261.1,802.7)"><ellipse rx="5.6" ry="5.2" fill="#000080" stroke="#000080" stroke-width="1.3"/><line x1="0.4" y1="-3.12" x2="0.4" y2="3.12" stroke="#fff" stroke-width="1.2"/></g>
<polyline points="884.7,1058.9 900.5,1012 913,968 931.6,903.2" fill="none" stroke="#FF3030" stroke-width="1.2" stroke-linejoin="round" stroke-linecap="round"/>
<line x1="911.2" y1="906.9" x2="1190.4" y2="782" stroke="#6B0B87" stroke-width="3.3" stroke-linecap="round"/>
<!-- Fowler-Nordheim plot, bottom row -->
<rect x="1372.9" y="760.2" width="412" height="310.8" rx="0" fill="none" stroke="#800080" stroke-width="2.5"/>
<line x1="1368.4" y1="760.2" x2="1372.9" y2="760.2" stroke="#800080" stroke-width="2" stroke-linecap="butt"/>
<text transform="translate(1330.9,767.4) scale(1.0431,1)" font-size="21.5" fill="#9B34A4">-31</text>
<line x1="1370.6" y1="788.25" x2="1372.9" y2="788.25" stroke="#800080" stroke-width="2" stroke-linecap="butt"/>
<line x1="1368.4" y1="816.3" x2="1372.9" y2="816.3" stroke="#800080" stroke-width="2" stroke-linecap="butt"/>
<text transform="translate(1330.9,823.5) scale(1.0431,1)" font-size="21.5" fill="#9B34A4">-32</text>
<line x1="1370.6" y1="844.35" x2="1372.9" y2="844.35" stroke="#800080" stroke-width="2" stroke-linecap="butt"/>
<line x1="1368.4" y1="872.4" x2="1372.9" y2="872.4" stroke="#800080" stroke-width="2" stroke-linecap="butt"/>
<text transform="translate(1330.91,879.6) scale(1.0393,1)" font-size="21.5" fill="#9B34A4">-33</text>
<line x1="1370.6" y1="900.45" x2="1372.9" y2="900.45" stroke="#800080" stroke-width="2" stroke-linecap="butt"/>
<line x1="1368.4" y1="928.5" x2="1372.9" y2="928.5" stroke="#800080" stroke-width="2" stroke-linecap="butt"/>
<text transform="translate(1330.92,935.7) scale(1.0280,1)" font-size="21.5" fill="#9B34A4">-34</text>
<line x1="1370.6" y1="956.55" x2="1372.9" y2="956.55" stroke="#800080" stroke-width="2" stroke-linecap="butt"/>
<line x1="1368.4" y1="984.6" x2="1372.9" y2="984.6" stroke="#800080" stroke-width="2" stroke-linecap="butt"/>
<text transform="translate(1330.91,991.8) scale(1.0393,1)" font-size="21.5" fill="#9B34A4">-35</text>
<line x1="1370.6" y1="1012.65" x2="1372.9" y2="1012.65" stroke="#800080" stroke-width="2" stroke-linecap="butt"/>
<line x1="1368.4" y1="1040.7" x2="1372.9" y2="1040.7" stroke="#800080" stroke-width="2" stroke-linecap="butt"/>
<text transform="translate(1330.91,1047.9) scale(1.0393,1)" font-size="21.5" fill="#9B34A4">-36</text>
<line x1="1370.6" y1="1068.75" x2="1372.9" y2="1068.75" stroke="#800080" stroke-width="2" stroke-linecap="butt"/>
<line x1="1381.1" y1="1071" x2="1381.1" y2="1078.2" stroke="#800080" stroke-width="2" stroke-linecap="butt"/>
<line x1="1421.4" y1="1071" x2="1421.4" y2="1075.2" stroke="#800080" stroke-width="2" stroke-linecap="butt"/>
<line x1="1461.7" y1="1071" x2="1461.7" y2="1078.2" stroke="#800080" stroke-width="2" stroke-linecap="butt"/>
<line x1="1502" y1="1071" x2="1502" y2="1075.2" stroke="#800080" stroke-width="2" stroke-linecap="butt"/>
<line x1="1542.3" y1="1071" x2="1542.3" y2="1078.2" stroke="#800080" stroke-width="2" stroke-linecap="butt"/>
<line x1="1582.6" y1="1071" x2="1582.6" y2="1075.2" stroke="#800080" stroke-width="2" stroke-linecap="butt"/>
<line x1="1622.9" y1="1071" x2="1622.9" y2="1078.2" stroke="#800080" stroke-width="2" stroke-linecap="butt"/>
<line x1="1663.2" y1="1071" x2="1663.2" y2="1075.2" stroke="#800080" stroke-width="2" stroke-linecap="butt"/>
<line x1="1703.5" y1="1071" x2="1703.5" y2="1078.2" stroke="#800080" stroke-width="2" stroke-linecap="butt"/>
<line x1="1743.8" y1="1071" x2="1743.8" y2="1075.2" stroke="#800080" stroke-width="2" stroke-linecap="butt"/>
<line x1="1784.1" y1="1071" x2="1784.1" y2="1078.2" stroke="#800080" stroke-width="2" stroke-linecap="butt"/>
<text transform="translate(1366.8,1101.9)" font-size="22" fill="#6038B0">0</text>
<text transform="translate(1428.84,1095.9) scale(0.9916,1)" font-size="22" fill="#6038B0">0.005</text>
<text transform="translate(1517.47,1096.3) scale(0.9530,1)" font-size="22" fill="#6038B0">0.01</text>
<text transform="translate(1587.53,1096.8) scale(0.9972,1)" font-size="22" fill="#6038B0">0.015</text>
<text transform="translate(1679.13,1096.8) scale(0.9968,1)" font-size="22" fill="#6038B0">0.02</text>
<text transform="translate(1741.02,1095) scale(1.0122,1)" font-size="22" fill="#6038B0">0.025</text>
<text transform="translate(1495.91,1139) scale(1.0176,1)" font-size="35.5" fill="#7D1A8C">E<tspan dy="-17.75" font-size="22.01">-1</tspan><tspan dy="17.75"> [cm/MV]</tspan></text>
<text transform="translate(1320.4,1037.84) rotate(-90) scale(1.0183,1)" font-size="30" fill="#7D1A8C">Ln(J/E<tspan dy="-13.5" font-size="18.6">2</tspan><tspan dy="13.5">) [A/MVcm]</tspan></text>
<line x1="1377.4" y1="782.6" x2="1439" y2="782.6" stroke="#000080" stroke-width="3.2" stroke-linecap="round"/>
<ellipse cx="1408.2" cy="782.6" rx="6.4" ry="5.8" fill="#fff"/>
<g transform="translate(1408.2,782.6)"><ellipse rx="4.4" ry="3.8" fill="#fff" stroke="#000080" stroke-width="1.2"/><path d="M0,-3.8 A4.4,3.8 0 0 0 0,3.8 Z" fill="#000080"/></g>
<text transform="translate(1445.49,790.5) scale(1.0047,1)" font-size="27.5" fill="#111">Fowler Nordheim</text>
<text transform="translate(1444.78,825.8) scale(1.0174,1)" font-size="27.5" fill="#111">--11 to -15 V</text>
<line x1="1383.1" y1="933" x2="1383.1" y2="951.8" stroke="#800000" stroke-width="3.6" stroke-linecap="butt"/>
<polyline points="1402.5,986.1 1401.5,1000 1400.2,1010 1399,1022.1" fill="none" stroke="#FF8000" stroke-width="1.5" stroke-linejoin="round" stroke-linecap="round"/>
<g transform="translate(1382.3,1003.8)"><ellipse rx="5.6" ry="5" fill="#fff" stroke="#808080" stroke-width="1.3"/><path d="M0,-5 A5.6,5 0 0 0 0,5 Z" fill="#808080"/></g>
<g transform="translate(1382.3,1012)"><ellipse rx="5.6" ry="5" fill="#fff" stroke="#FF00FF" stroke-width="1.3"/><path d="M0,-5 A5.6,5 0 0 0 0,5 Z" fill="#FF00FF"/></g>
<g transform="translate(1382.3,1021.1)"><ellipse rx="5.6" ry="5" fill="#fff" stroke="#8000FF" stroke-width="1.3"/><path d="M0,-5 A5.6,5 0 0 0 0,5 Z" fill="#8000FF"/></g>
<g transform="translate(1382.3,1041.9)"><ellipse rx="5.6" ry="5" fill="#fff" stroke="#FF0000" stroke-width="1.3"/><path d="M0,-5 A5.6,5 0 0 0 0,5 Z" fill="#FF0000"/></g>
<g transform="translate(1388.4,928.7)"><ellipse rx="5.6" ry="5" fill="#FF0080" stroke="#FF0080" stroke-width="1.3"/><line x1="0.4" y1="-3" x2="0.4" y2="3" stroke="#fff" stroke-width="1.2"/></g>
<g transform="translate(1416.3,912.8)"><ellipse rx="5.6" ry="5" fill="#FFFF00" stroke="#FFFF00" stroke-width="1.3"/><line x1="0.4" y1="-3" x2="0.4" y2="3" stroke="#fff" stroke-width="1.2"/></g>
<g transform="translate(1433.6,912.8)"><ellipse rx="5.6" ry="5" fill="#00FF00" stroke="#00FF00" stroke-width="1.3"/><line x1="0.4" y1="-3" x2="0.4" y2="3" stroke="#fff" stroke-width="1.2"/></g>
<g transform="translate(1440.8,904.2)"><ellipse rx="5.6" ry="5" fill="#0000FF" stroke="#0000FF" stroke-width="1.3"/><line x1="0.4" y1="-3" x2="0.4" y2="3" stroke="#fff" stroke-width="1.2"/></g>
<g transform="translate(1447.9,906.2)"><ellipse rx="5.6" ry="5" fill="#8000FF" stroke="#8000FF" stroke-width="1.3"/><line x1="0.4" y1="-3" x2="0.4" y2="3" stroke="#fff" stroke-width="1.2"/></g>
<g transform="translate(1459.1,893.6)"><ellipse rx="5.6" ry="5" fill="#804000" stroke="#804000" stroke-width="1.3"/><line x1="0.4" y1="-3" x2="0.4" y2="3" stroke="#fff" stroke-width="1.2"/></g>
<g transform="translate(1495.4,888.5)"><ellipse rx="5.6" ry="5" fill="#808080" stroke="#808080" stroke-width="1.3"/><line x1="0.4" y1="-3" x2="0.4" y2="3" stroke="#fff" stroke-width="1.2"/></g>
<g transform="translate(1502.9,885.3)"><ellipse rx="5.6" ry="5" fill="#C00040" stroke="#C00040" stroke-width="1.3"/><line x1="0.4" y1="-3" x2="0.4" y2="3" stroke="#fff" stroke-width="1.2"/></g>
<g transform="translate(1513.7,873.6)"><ellipse rx="5.6" ry="5" fill="#00FFFF" stroke="#00FFFF" stroke-width="1.3"/><line x1="0.4" y1="-3" x2="0.4" y2="3" stroke="#fff" stroke-width="1.2"/></g>
<g transform="translate(1530.4,875.7)"><ellipse rx="5.6" ry="5" fill="#8000FF" stroke="#8000FF" stroke-width="1.3"/><line x1="0.4" y1="-3" x2="0.4" y2="3" stroke="#fff" stroke-width="1.2"/></g>
<g transform="translate(1557.3,865.1)"><ellipse rx="5.6" ry="5" fill="#808000" stroke="#808000" stroke-width="1.3"/><line x1="0.4" y1="-3" x2="0.4" y2="3" stroke="#fff" stroke-width="1.2"/></g>
<g transform="translate(1565.1,847.8)"><ellipse rx="5.6" ry="5" fill="#FF00FF" stroke="#FF00FF" stroke-width="1.3"/><line x1="0.4" y1="-3" x2="0.4" y2="3" stroke="#fff" stroke-width="1.2"/></g>
<g transform="translate(1578.7,854.7)"><ellipse rx="5.6" ry="5" fill="#0000FF" stroke="#0000FF" stroke-width="1.3"/><line x1="0.4" y1="-3" x2="0.4" y2="3" stroke="#fff" stroke-width="1.2"/></g>
<g transform="translate(1594,849.2)"><ellipse rx="5.6" ry="5" fill="#FFFF00" stroke="#FFFF00" stroke-width="1.3"/><line x1="0.4" y1="-3" x2="0.4" y2="3" stroke="#fff" stroke-width="1.2"/></g>
<g transform="translate(1615,836.4)"><ellipse rx="5.6" ry="5" fill="#800080" stroke="#800080" stroke-width="1.3"/><line x1="0.4" y1="-3" x2="0.4" y2="3" stroke="#fff" stroke-width="1.2"/></g>
<g transform="translate(1628.6,836)"><ellipse rx="5.6" ry="5" fill="#FF0080" stroke="#FF0080" stroke-width="1.3"/><line x1="0.4" y1="-3" x2="0.4" y2="3" stroke="#fff" stroke-width="1.2"/></g>
<g transform="translate(1639.8,830.2)"><ellipse rx="5.6" ry="5" fill="#00FFFF" stroke="#00FFFF" stroke-width="1.3"/><line x1="0.4" y1="-3" x2="0.4" y2="3" stroke="#fff" stroke-width="1.2"/></g>
<g transform="translate(1652.5,827.4)"><ellipse rx="5.6" ry="5" fill="#00FF00" stroke="#00FF00" stroke-width="1.3"/><line x1="0.4" y1="-3" x2="0.4" y2="3" stroke="#fff" stroke-width="1.2"/></g>
<g transform="translate(1668,824.3)"><ellipse rx="5.6" ry="5" fill="#400080" stroke="#400080" stroke-width="1.3"/><line x1="0.4" y1="-3" x2="0.4" y2="3" stroke="#fff" stroke-width="1.2"/></g>
<g transform="translate(1695.5,805.4)"><ellipse rx="5.6" ry="5" fill="#008000" stroke="#008000" stroke-width="1.3"/><line x1="0.4" y1="-3" x2="0.4" y2="3" stroke="#fff" stroke-width="1.2"/></g>
<g transform="translate(1707.5,808)"><ellipse rx="5.6" ry="5" fill="#00C0C0" stroke="#00C0C0" stroke-width="1.3"/><line x1="0.4" y1="-3" x2="0.4" y2="3" stroke="#fff" stroke-width="1.2"/></g>
<g transform="translate(1720.3,800.9)"><ellipse rx="5.6" ry="5" fill="#800000" stroke="#800000" stroke-width="1.3"/><line x1="0.4" y1="-3" x2="0.4" y2="3" stroke="#fff" stroke-width="1.2"/></g>
<g transform="translate(1733.2,796.2)"><ellipse rx="5.6" ry="5" fill="#000000" stroke="#000000" stroke-width="1.3"/><line x1="0.4" y1="-3" x2="0.4" y2="3" stroke="#fff" stroke-width="1.2"/></g>
<g transform="translate(1744.4,792.8)"><ellipse rx="5.6" ry="5" fill="#FFFF00" stroke="#FFFF00" stroke-width="1.3"/><line x1="0.4" y1="-3" x2="0.4" y2="3" stroke="#fff" stroke-width="1.2"/></g>
<line x1="1390.9" y1="921.9" x2="1760" y2="783.4" stroke="#800080" stroke-width="3.3" stroke-linecap="round"/>
<g transform="translate(1766.8,780.9)"><ellipse rx="5.8" ry="5.4" fill="#fff" stroke="#800080" stroke-width="1.4"/><path d="M0,-5.4 A5.8,5.4 0 0 0 0,5.4 Z" fill="#800080"/></g>
</svg>
</body></html>
